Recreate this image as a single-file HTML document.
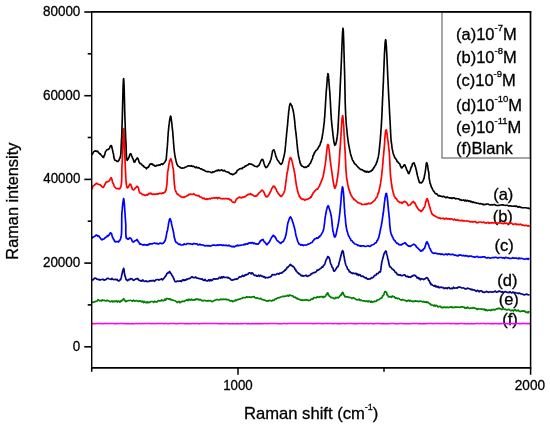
<!DOCTYPE html>
<html><head><meta charset="utf-8"><style>
html,body{margin:0;padding:0;background:#fff;}
body{width:550px;height:430px;overflow:hidden;}
svg{display:block;}
text{font-family:"Liberation Sans",Arial,sans-serif;fill:#000;stroke:#000;stroke-width:0.3px;}
.tk{font-size:14.2px;}
.ti{font-size:16.6px;}
.sup{font-size:9px;}
.lg{font-size:16.5px;}
.lsup{font-size:9.5px;}
</style></head><body>
<svg width="550" height="430" viewBox="0 0 550 430">
<rect width="550" height="430" fill="#fff"/>
<text x="493.2" y="199.6" class="lg">(a)</text>
<text x="492.7" y="222.0" class="lg">(b)</text>
<text x="494.5" y="251.0" class="lg">(c)</text>
<text x="497.3" y="285.8" class="lg">(d)</text>
<text x="498.7" y="305.3" class="lg">(e)</text>
<text x="502.2" y="324.8" class="lg">(f)</text>
<polyline points="91.6,323.6 91.6,323.7 91.6,323.7 91.7,323.6 91.7,323.5 91.8,323.5 91.8,323.6 91.9,323.6 92.0,323.7 92.1,323.6 92.3,323.7 92.4,323.5 92.6,323.7 92.7,323.7 92.9,323.6 93.1,323.6 93.3,323.7 93.5,323.5 93.8,323.6 94.0,323.7 94.3,323.5 94.5,323.7 94.8,323.7 95.1,323.7 95.4,323.6 95.7,323.5 96.0,323.7 96.4,323.7 96.7,323.6 97.1,323.5 97.5,323.5 97.9,323.6 98.3,323.5 98.7,323.7 99.1,323.6 99.5,323.5 100.0,323.6 100.4,323.6 100.9,323.7 101.4,323.7 101.9,323.6 102.4,323.6 102.9,323.7 103.4,323.7 104.0,323.7 104.5,323.5 105.1,323.6 105.6,323.6 106.2,323.5 106.8,323.6 107.4,323.5 108.0,323.7 108.7,323.6 109.3,323.5 109.9,323.6 110.6,323.5 111.2,323.5 111.9,323.6 112.6,323.5 113.3,323.5 114.0,323.7 114.7,323.7 115.4,323.5 116.2,323.7 116.9,323.5 117.7,323.5 118.4,323.7 119.2,323.6 120.0,323.5 120.8,323.6 121.6,323.6 122.4,323.5 123.2,323.7 124.0,323.5 124.9,323.6 125.7,323.7 126.6,323.6 127.4,323.7 128.3,323.5 129.2,323.7 130.1,323.7 131.0,323.7 131.9,323.7 132.8,323.6 133.7,323.7 134.7,323.7 135.6,323.6 136.6,323.6 137.5,323.7 138.5,323.6 139.5,323.5 140.5,323.7 141.4,323.5 142.4,323.6 143.5,323.7 144.5,323.5 145.5,323.5 146.5,323.5 147.6,323.6 148.6,323.6 149.7,323.5 150.7,323.6 151.8,323.7 152.9,323.5 153.9,323.6 155.0,323.7 156.1,323.6 157.2,323.5 158.3,323.6 159.5,323.6 160.6,323.5 161.7,323.6 162.9,323.5 164.0,323.7 165.2,323.5 166.3,323.6 167.5,323.7 168.6,323.7 169.8,323.6 171.0,323.6 172.2,323.5 173.4,323.6 174.6,323.6 175.8,323.7 177.0,323.7 178.2,323.5 179.5,323.5 180.7,323.6 181.9,323.5 183.2,323.5 184.4,323.7 185.7,323.5 186.9,323.7 188.2,323.6 189.5,323.7 190.8,323.7 192.0,323.5 193.3,323.5 194.6,323.7 195.9,323.6 197.2,323.6 198.5,323.7 199.8,323.7 201.2,323.6 202.5,323.6 203.8,323.5 205.1,323.6 206.5,323.5 207.8,323.6 209.2,323.6 210.5,323.5 211.9,323.6 213.2,323.5 214.6,323.5 215.9,323.6 217.3,323.6 218.7,323.7 220.1,323.6 221.4,323.7 222.8,323.5 224.2,323.7 225.6,323.5 227.0,323.6 228.4,323.7 229.8,323.7 231.2,323.7 232.6,323.6 234.0,323.7 235.5,323.7 236.9,323.5 238.3,323.7 239.7,323.7 241.1,323.6 242.6,323.7 244.0,323.6 245.5,323.5 246.9,323.7 248.3,323.5 249.8,323.7 251.2,323.7 252.7,323.5 254.1,323.7 255.6,323.5 257.0,323.7 258.5,323.5 260.0,323.7 261.4,323.6 262.9,323.7 264.4,323.5 265.8,323.5 267.3,323.7 268.8,323.6 270.3,323.6 271.7,323.5 273.2,323.5 274.7,323.6 276.2,323.5 277.7,323.7 279.2,323.7 280.6,323.7 282.1,323.7 283.6,323.6 285.1,323.5 286.6,323.7 288.1,323.5 289.6,323.6 291.1,323.6 292.6,323.6 294.1,323.5 295.6,323.5 297.1,323.6 298.6,323.5 300.1,323.6 301.6,323.5 303.1,323.5 304.6,323.5 306.1,323.6 307.6,323.6 309.1,323.5 310.6,323.5 312.0,323.6 313.5,323.7 315.0,323.6 316.5,323.5 318.0,323.5 319.5,323.5 321.0,323.6 322.5,323.7 324.0,323.6 325.5,323.5 327.0,323.5 328.5,323.6 330.0,323.6 331.5,323.6 333.0,323.7 334.5,323.6 336.0,323.6 337.5,323.7 339.0,323.6 340.5,323.7 341.9,323.6 343.4,323.6 344.9,323.7 346.4,323.5 347.9,323.6 349.4,323.6 350.8,323.5 352.3,323.5 353.8,323.7 355.3,323.5 356.7,323.7 358.2,323.5 359.7,323.6 361.1,323.5 362.6,323.6 364.1,323.7 365.5,323.5 367.0,323.6 368.4,323.7 369.9,323.5 371.3,323.6 372.8,323.7 374.2,323.7 375.6,323.5 377.1,323.6 378.5,323.5 380.0,323.5 381.4,323.7 382.8,323.5 384.2,323.7 385.6,323.7 387.1,323.7 388.5,323.7 389.9,323.6 391.3,323.5 392.7,323.6 394.1,323.5 395.5,323.7 396.9,323.7 398.3,323.7 399.7,323.5 401.0,323.6 402.4,323.5 403.8,323.7 405.2,323.7 406.5,323.7 407.9,323.7 409.2,323.7 410.6,323.7 411.9,323.5 413.3,323.6 414.6,323.5 416.0,323.6 417.3,323.5 418.6,323.7 419.9,323.5 421.3,323.7 422.6,323.7 423.9,323.6 425.2,323.7 426.5,323.5 427.8,323.5 429.1,323.5 430.3,323.5 431.6,323.5 432.9,323.7 434.2,323.5 435.4,323.6 436.7,323.5 437.9,323.5 439.2,323.6 440.4,323.5 441.6,323.7 442.9,323.6 444.1,323.6 445.3,323.6 446.5,323.6 447.7,323.6 448.9,323.5 450.1,323.5 451.3,323.7 452.5,323.5 453.6,323.6 454.8,323.7 455.9,323.6 457.1,323.7 458.2,323.7 459.4,323.6 460.5,323.5 461.6,323.6 462.8,323.6 463.9,323.7 465.0,323.6 466.1,323.7 467.2,323.7 468.2,323.6 469.3,323.7 470.4,323.7 471.4,323.5 472.5,323.7 473.5,323.7 474.6,323.7 475.6,323.6 476.6,323.5 477.6,323.5 478.7,323.6 479.7,323.7 480.6,323.6 481.6,323.5 482.6,323.5 483.6,323.5 484.5,323.6 485.5,323.7 486.4,323.7 487.4,323.5 488.3,323.6 489.2,323.5 490.1,323.7 491.0,323.7 491.9,323.6 492.8,323.7 493.7,323.6 494.5,323.7 495.4,323.6 496.2,323.6 497.1,323.7 497.9,323.7 498.7,323.6 499.5,323.7 500.3,323.6 501.1,323.7 501.9,323.5 502.7,323.5 503.4,323.5 504.2,323.6 504.9,323.7 505.7,323.5 506.4,323.6 507.1,323.5 507.8,323.7 508.5,323.7 509.2,323.5 509.9,323.7 510.5,323.6 511.2,323.5 511.8,323.6 512.4,323.5 513.1,323.7 513.7,323.7 514.3,323.5 514.9,323.5 515.5,323.6 516.0,323.7 516.6,323.7 517.1,323.6 517.7,323.5 518.2,323.6 518.7,323.6 519.2,323.7 519.7,323.6 520.2,323.7 520.7,323.7 521.1,323.6 521.6,323.7 522.0,323.5 522.4,323.5 522.8,323.7 523.2,323.5 523.6,323.7 524.0,323.6 524.4,323.5 524.7,323.5 525.1,323.7 525.4,323.6 525.7,323.6 526.0,323.5 526.3,323.7 526.6,323.6 526.8,323.7 527.1,323.5 527.3,323.7 527.6,323.6 527.8,323.6 528.0,323.5 528.2,323.6 528.4,323.7 528.5,323.5 528.7,323.6 528.8,323.5 529.0,323.7 529.1,323.7 529.2,323.7 529.3,323.6 529.3,323.5 529.4,323.5 529.4,323.7 529.5,323.7 529.5,323.7 529.5,323.6" fill="none" stroke="#ff00ff" stroke-width="1.5" stroke-linejoin="round"/>
<polyline points="91.6,302.4 91.8,302.5 92.4,302.4 93.4,302.1 94.5,301.9 95.7,301.3 96.9,301.2 98.0,299.7 98.8,300.3 99.7,300.9 100.6,300.5 101.5,300.9 102.4,299.9 103.3,300.5 104.3,300.3 105.2,300.8 106.1,300.9 107.1,300.3 108.0,300.6 108.9,300.8 109.9,301.7 110.9,301.6 111.9,300.8 112.9,301.8 113.9,301.0 114.8,301.7 115.7,301.1 116.5,300.9 117.3,302.1 118.0,301.2 118.9,301.1 119.6,302.1 120.3,301.8 121.0,300.7 121.7,301.1 122.3,299.9 123.0,299.5 123.6,298.6 124.2,299.9 124.8,300.2 125.4,301.2 126.0,301.6 126.9,300.8 128.0,300.8 128.7,300.5 129.5,300.5 130.4,300.3 131.5,300.7 132.5,301.1 133.6,300.2 134.8,301.1 135.9,300.7 137.0,300.7 138.0,301.4 138.9,301.1 139.8,300.9 140.7,301.3 141.6,301.8 142.5,301.1 143.5,302.5 144.4,301.4 145.3,302.5 146.2,302.8 147.1,301.7 148.0,302.8 148.9,302.2 149.9,302.4 150.8,301.5 151.7,301.5 152.7,301.5 153.6,302.4 154.6,301.2 155.5,301.8 156.3,301.9 157.2,301.8 158.0,300.8 158.9,300.7 159.8,300.8 160.7,301.0 161.6,299.9 162.4,300.7 163.2,300.6 164.0,300.5 164.9,299.1 165.7,300.1 166.5,298.5 167.4,298.6 168.2,298.8 169.0,299.2 169.8,298.6 170.7,299.8 171.5,299.7 172.3,299.9 173.1,300.4 174.0,300.5 174.8,300.7 175.6,301.0 176.5,301.9 177.3,302.5 178.2,301.5 179.1,301.4 180.0,302.7 180.8,302.0 181.7,301.6 182.5,301.2 183.4,301.4 184.3,301.4 185.2,300.6 186.1,300.3 187.1,299.6 188.0,300.6 188.9,299.2 189.7,299.8 190.6,300.2 191.5,299.1 192.4,299.9 193.3,300.1 194.2,299.7 195.2,299.9 196.1,298.9 197.1,299.4 198.0,299.0 198.9,300.0 199.8,299.4 200.7,299.7 201.6,300.6 202.5,300.6 203.4,300.9 204.3,300.3 205.3,300.5 206.2,301.0 207.1,300.8 208.1,300.6 209.0,300.8 210.0,300.5 210.9,300.8 211.8,301.6 212.8,301.4 213.7,300.8 214.7,300.4 215.7,300.0 216.6,299.5 217.6,299.5 218.5,300.0 219.5,300.0 220.4,299.1 221.4,299.6 222.3,299.4 223.1,299.3 224.0,299.2 225.0,299.5 226.1,299.1 227.0,299.8 228.0,299.5 229.0,300.1 229.9,300.8 230.8,300.9 231.8,300.6 232.7,301.6 233.6,301.2 234.6,301.0 235.5,299.9 236.4,300.4 237.4,299.6 238.3,299.7 239.2,299.0 240.1,299.1 241.1,298.5 242.0,298.4 242.9,297.5 243.9,297.7 244.8,297.6 245.7,297.6 246.7,296.7 247.6,297.3 248.6,297.2 249.5,296.9 250.4,297.3 251.4,297.3 252.3,296.8 253.2,296.9 254.1,296.6 255.0,297.8 256.0,298.1 257.0,297.7 258.0,298.3 258.8,298.5 259.7,298.8 260.6,298.3 261.6,299.4 262.5,299.5 263.5,299.9 264.5,299.9 265.4,300.4 266.4,300.9 267.3,300.9 268.3,301.2 269.2,300.3 270.0,300.5 271.0,300.8 271.9,300.9 272.7,300.1 273.6,300.4 274.4,300.0 275.3,298.8 276.1,299.0 277.0,298.3 278.0,297.8 278.9,297.6 279.8,297.6 280.7,297.1 281.7,296.8 282.7,296.3 283.7,296.6 284.7,296.2 285.7,296.2 286.7,296.0 287.7,295.3 288.6,296.2 289.5,294.9 290.4,295.5 291.3,295.5 292.2,295.9 293.0,295.9 293.8,297.4 294.6,297.2 295.4,297.2 296.3,298.5 297.1,298.1 298.0,299.1 298.8,299.0 299.7,299.5 300.6,300.2 301.5,300.2 302.4,299.8 303.4,300.4 304.3,300.2 305.2,299.9 306.2,299.6 307.1,300.2 308.0,300.1 308.9,300.5 309.9,300.3 310.8,299.5 311.8,298.9 312.7,299.3 313.7,297.7 314.6,297.5 315.5,297.8 316.4,297.6 317.2,296.7 318.0,297.2 318.9,297.4 319.8,296.7 320.7,296.8 321.5,296.5 322.3,296.6 323.0,297.5 323.8,296.4 324.5,296.9 325.2,296.5 325.8,295.6 326.3,294.5 326.8,294.7 327.2,293.3 327.6,292.9 328.0,293.0 328.3,294.7 328.7,294.9 329.1,295.5 329.6,296.5 330.3,296.5 331.2,297.6 332.1,297.7 333.1,297.8 334.0,298.6 334.8,298.7 335.7,297.4 336.6,297.9 337.5,297.3 338.3,297.9 339.0,297.4 339.8,296.1 340.4,295.4 341.0,294.5 341.5,294.9 341.9,293.1 342.3,292.8 342.7,292.4 343.1,292.9 343.4,293.7 343.8,294.9 344.2,295.0 344.8,296.7 345.5,296.4 346.2,297.0 347.1,296.8 348.0,296.9 349.0,297.4 350.0,297.5 350.8,297.5 351.6,298.3 352.5,298.3 353.4,297.7 354.4,298.3 355.3,298.8 356.3,299.7 357.3,299.9 358.2,299.7 359.1,299.1 360.0,300.4 360.9,300.1 361.9,300.5 362.8,300.8 363.7,300.9 364.6,300.8 365.5,301.5 366.4,300.9 367.2,301.0 368.0,301.8 368.9,301.0 369.8,301.3 370.6,302.2 371.4,301.2 372.2,302.3 373.0,302.1 373.9,301.5 374.7,301.1 375.6,301.5 376.4,301.3 377.2,299.9 378.0,300.0 378.8,299.7 379.5,299.3 380.2,298.7 380.9,298.0 381.5,298.1 382.0,297.8 382.5,296.1 382.9,295.6 383.3,295.7 383.7,294.9 384.2,293.7 384.7,291.6 385.1,291.7 385.6,291.7 386.0,292.0 386.3,292.5 386.7,292.7 387.0,294.8 387.5,294.8 388.1,296.0 388.7,297.0 389.3,297.0 390.0,296.5 390.7,296.7 391.5,297.3 392.3,296.0 393.0,296.7 393.8,296.7 394.5,296.9 395.2,298.1 396.0,297.8 396.7,298.1 397.5,298.7 398.3,298.4 399.1,298.5 400.0,299.4 400.8,299.8 401.6,300.2 402.5,299.4 403.4,300.0 404.2,300.0 405.1,300.6 406.0,300.6 406.8,301.3 407.7,300.6 408.5,300.2 409.4,301.1 410.2,300.4 411.1,301.1 412.0,301.0 412.8,301.6 413.7,301.2 414.6,301.3 415.5,300.9 416.4,301.3 417.3,301.0 418.2,301.7 419.1,301.4 420.0,301.0 420.9,301.2 421.8,301.5 422.7,302.0 423.6,301.3 424.5,302.2 425.4,302.2 426.2,301.6 427.0,302.6 427.9,302.2 428.7,302.7 429.5,303.8 430.3,303.8 431.1,305.1 432.0,305.0 432.8,305.0 433.6,305.9 434.5,305.1 435.3,306.2 436.2,305.4 437.1,305.7 438.0,307.0 438.8,306.8 439.7,306.3 440.5,306.3 441.4,307.7 442.3,307.4 443.2,307.7 444.1,306.9 445.1,307.6 446.0,307.3 446.9,307.1 447.8,307.3 448.7,307.6 449.6,307.2 450.5,307.2 451.5,306.7 452.4,307.6 453.3,307.3 454.2,307.5 455.1,306.9 456.0,307.5 456.9,307.0 457.8,307.2 458.7,307.2 459.6,307.5 460.5,307.1 461.4,306.8 462.2,306.8 463.1,307.1 464.0,307.0 464.9,308.2 465.8,307.7 466.7,308.1 467.6,307.1 468.4,307.9 469.3,308.5 470.2,308.2 471.1,308.0 472.0,308.2 472.9,307.7 473.8,307.9 474.6,308.1 475.5,308.5 476.4,308.7 477.3,309.5 478.2,308.6 479.1,308.9 480.0,309.0 480.9,308.9 481.7,309.2 482.6,309.2 483.6,309.6 484.5,309.1 485.4,310.4 486.3,309.7 487.2,310.6 488.2,310.2 489.1,310.2 490.0,310.0 490.9,310.6 491.8,309.4 492.7,310.0 493.6,309.4 494.5,309.8 495.5,309.7 496.4,308.8 497.3,308.8 498.2,308.4 499.1,308.6 500.0,308.4 500.9,308.9 501.8,309.7 502.7,308.9 503.6,309.0 504.5,309.3 505.5,309.1 506.4,309.9 507.3,310.0 508.2,309.3 509.1,309.5 510.0,310.2 510.9,310.7 511.8,310.4 512.7,310.2 513.6,311.0 514.6,309.7 515.5,309.9 516.4,311.0 517.3,310.6 518.2,310.2 519.1,311.0 520.0,311.7 521.0,311.2 522.2,311.1 523.5,310.9 524.7,311.1 526.0,312.4 527.1,312.0 528.1,312.8 528.8,311.7 529.3,312.0 529.5,312.4" fill="none" stroke="#008000" stroke-width="1.7" stroke-linejoin="round"/>
<polyline points="91.6,281.0 91.8,280.4 92.4,279.8 93.3,279.6 94.2,278.6 95.2,278.0 96.0,278.3 96.8,279.1 97.6,279.3 98.4,279.7 99.2,279.4 100.0,280.1 100.8,279.7 101.6,279.5 102.4,279.3 103.2,279.3 104.0,280.2 104.8,279.9 105.6,279.6 106.4,279.3 107.2,278.3 108.0,278.3 108.8,278.8 109.6,279.0 110.4,279.2 111.2,279.4 112.0,278.4 112.8,279.3 113.7,279.6 114.5,279.5 115.4,279.3 116.2,279.9 117.0,279.4 118.1,280.8 119.1,280.8 120.0,280.1 120.4,279.2 120.8,279.4 121.1,278.0 121.3,277.4 121.5,276.4 121.8,274.9 122.0,273.9 122.3,273.2 122.6,271.8 122.8,270.4 123.1,269.6 123.4,269.7 123.6,268.4 123.8,268.6 124.0,270.0 124.1,270.4 124.3,271.8 124.4,272.9 124.6,273.8 124.8,275.8 125.0,275.6 125.3,276.9 125.7,277.8 126.0,279.4 126.5,279.7 127.0,280.2 127.7,280.7 128.4,279.6 129.2,279.4 130.0,279.6 130.8,278.5 131.6,278.7 132.4,279.3 133.2,280.3 134.0,280.2 134.8,279.5 135.5,279.2 136.2,278.7 137.0,278.9 137.8,278.5 138.5,279.7 139.3,280.3 140.2,280.8 141.0,280.7 141.8,281.2 142.6,280.0 143.4,280.5 144.3,281.5 145.1,281.3 146.0,280.9 147.0,281.7 148.0,281.3 149.0,281.5 150.0,280.8 151.0,280.6 152.0,280.9 152.9,280.4 153.7,280.6 154.6,281.3 155.4,280.3 156.3,279.7 157.1,279.5 158.0,279.5 158.9,280.2 159.8,279.5 160.7,279.3 161.6,278.9 162.5,279.9 163.3,278.9 164.0,278.2 164.6,277.4 165.2,276.6 165.6,275.9 166.1,275.7 166.5,274.2 167.0,273.4 167.6,273.3 168.3,272.3 169.0,272.8 169.6,271.5 170.2,272.4 170.8,273.5 171.4,273.9 172.0,275.7 172.4,275.8 172.8,276.4 173.2,277.6 173.6,278.1 174.0,279.5 174.4,280.1 175.0,281.5 175.7,281.8 176.5,281.6 177.3,281.0 178.2,281.3 179.0,281.2 179.8,281.1 180.6,280.9 181.4,281.5 182.3,280.1 183.1,279.7 184.0,280.6 184.8,279.8 185.7,280.1 186.6,279.0 187.5,279.4 188.4,278.7 189.2,278.7 190.0,278.3 190.8,277.7 191.7,276.9 192.4,276.8 193.2,277.6 194.0,277.6 194.8,277.7 195.5,277.0 196.3,277.7 197.1,278.2 198.0,278.2 198.7,278.6 199.5,278.5 200.4,278.9 201.3,279.2 202.2,278.9 203.2,280.1 204.2,280.4 205.1,279.4 206.1,280.9 207.1,281.0 208.0,280.6 208.9,279.7 209.8,280.9 210.8,279.6 211.7,280.6 212.6,280.0 213.5,278.9 214.4,278.8 215.4,279.2 216.2,278.9 217.1,278.9 218.0,279.0 218.9,277.8 219.8,277.3 220.7,278.3 221.6,276.8 222.5,277.8 223.4,276.6 224.3,277.4 225.1,277.4 226.0,277.5 226.9,277.2 227.7,278.0 228.6,277.5 229.4,278.6 230.3,278.6 231.1,279.9 232.0,280.1 232.8,279.9 233.6,280.0 234.4,279.2 235.2,279.0 236.0,279.4 236.8,278.8 237.6,278.8 238.4,278.0 239.2,276.9 240.0,276.8 240.9,277.0 241.7,276.4 242.6,275.4 243.5,276.3 244.4,276.0 245.2,274.7 246.0,275.1 246.9,274.4 247.8,274.4 248.6,273.3 249.5,272.8 250.4,273.0 251.2,273.8 251.9,272.8 252.7,273.3 253.5,274.5 254.3,275.3 255.2,275.2 256.0,275.4 256.8,276.2 257.7,276.1 258.6,275.2 259.5,276.3 260.3,275.4 261.2,275.6 262.0,276.5 262.9,276.2 263.7,277.1 264.5,276.7 265.3,278.1 266.2,277.5 267.0,277.5 267.8,277.8 268.7,277.3 269.6,277.1 270.4,277.0 271.3,276.2 272.2,274.7 273.0,274.7 273.8,274.8 274.7,274.6 275.5,274.8 276.3,274.4 277.2,273.6 278.0,273.6 278.9,274.2 279.8,273.1 280.7,273.2 281.7,273.1 282.5,272.1 283.3,271.7 284.0,271.2 284.7,270.1 285.3,270.3 286.0,269.0 286.5,269.0 287.1,267.4 287.8,267.5 288.5,266.6 289.2,265.8 289.8,265.1 290.5,264.5 291.2,265.5 291.8,265.4 292.5,266.4 293.2,266.3 293.8,267.0 294.4,267.8 295.0,269.4 295.6,269.3 296.2,271.2 296.7,271.3 297.3,272.4 298.0,272.8 298.7,273.8 299.5,273.7 300.4,274.7 301.2,275.9 302.1,275.3 303.0,276.2 303.8,275.9 304.7,275.9 305.5,275.4 306.3,275.2 307.2,276.4 308.0,276.0 308.9,275.6 309.7,275.3 310.5,275.0 311.4,273.5 312.2,273.6 313.0,273.0 313.8,272.6 314.7,272.7 315.5,272.0 316.3,271.8 317.2,270.0 318.0,270.2 318.8,269.7 319.5,269.3 320.3,268.5 321.1,268.2 321.9,266.9 322.7,267.1 323.4,265.6 324.0,265.1 324.5,264.8 325.0,263.5 325.4,261.9 325.8,260.7 326.2,259.7 326.6,259.1 326.9,258.7 327.3,257.8 327.6,256.6 328.0,256.5 328.4,257.3 328.8,257.1 329.2,258.2 329.5,258.7 329.9,260.2 330.2,261.9 330.6,263.3 331.0,264.2 331.4,264.7 331.8,266.6 332.2,267.2 332.6,267.6 333.1,268.5 333.5,270.5 333.9,271.1 334.4,271.2 335.0,270.6 335.6,269.7 336.2,268.6 336.8,267.8 337.4,266.7 338.0,266.6 338.3,265.8 338.7,264.8 339.0,262.9 339.3,261.9 339.6,260.8 339.9,260.5 340.2,258.2 340.5,257.8 340.7,256.5 341.0,255.2 341.3,254.7 341.6,252.9 341.8,252.5 342.1,251.4 342.3,251.0 342.6,250.7 342.9,251.3 343.1,251.4 343.3,251.9 343.5,253.9 343.7,253.8 343.9,255.7 344.1,256.5 344.3,257.7 344.5,258.8 344.7,260.5 345.0,261.6 345.2,262.5 345.4,263.3 345.7,264.5 346.0,265.3 346.4,266.0 346.7,266.8 347.1,267.2 347.5,269.1 348.0,269.4 348.4,269.5 348.9,270.4 349.4,272.0 350.0,271.7 350.7,272.3 351.5,273.1 352.4,273.6 353.3,273.1 354.2,273.4 355.1,273.6 356.0,273.3 356.9,274.8 357.7,273.9 358.6,275.5 359.4,274.6 360.3,274.9 361.1,276.2 362.0,276.5 362.9,276.0 363.7,276.9 364.6,277.3 365.5,278.1 366.3,277.7 367.2,278.9 368.0,279.3 368.9,278.9 369.7,279.0 370.6,278.8 371.4,277.6 372.2,277.9 373.0,277.5 373.8,276.6 374.5,275.4 375.3,275.5 376.0,275.2 376.7,273.7 377.4,273.6 378.0,273.6 378.7,272.8 379.4,271.8 380.0,272.2 380.3,271.2 380.5,271.4 380.7,270.3 380.9,268.9 381.0,268.8 381.1,267.4 381.2,265.9 381.3,265.5 381.5,264.5 381.6,263.5 381.8,262.5 382.0,261.2 382.3,260.3 382.6,259.1 382.9,257.8 383.2,257.3 383.6,255.3 383.9,253.8 384.3,253.7 384.6,252.6 385.0,252.0 385.3,251.7 385.6,251.0 385.9,251.2 386.3,251.6 386.6,253.5 386.9,254.8 387.2,255.7 387.4,256.2 387.7,258.6 388.0,259.5 388.2,259.9 388.4,260.2 388.6,262.3 388.8,263.0 388.9,264.0 389.1,264.1 389.4,265.9 389.6,265.7 390.0,267.0 390.7,267.2 391.4,267.9 392.2,269.0 393.0,269.3 393.6,270.2 394.2,270.3 394.7,271.3 395.3,272.4 396.0,272.3 396.7,273.4 397.5,274.7 398.3,274.7 399.1,275.2 400.0,274.7 400.8,275.4 401.6,275.7 402.5,275.6 403.3,275.2 404.2,274.9 405.0,274.8 405.8,276.3 406.7,276.6 407.5,276.1 408.4,277.1 409.2,276.8 410.0,277.2 410.8,277.3 411.6,276.2 412.4,276.2 413.2,275.3 414.0,275.6 414.8,275.2 415.6,276.0 416.4,276.6 417.2,278.1 418.0,277.5 418.8,278.8 419.6,278.2 420.4,279.8 421.2,278.9 422.0,278.9 422.8,279.0 423.7,279.6 424.6,278.8 425.4,278.7 426.2,277.9 427.0,277.5 427.6,278.2 428.1,278.9 428.6,280.5 429.1,280.3 429.5,281.3 430.0,283.1 430.5,282.8 431.0,284.7 431.7,284.3 432.5,285.1 433.3,285.6 434.2,286.2 435.0,285.4 435.8,286.8 436.5,286.2 437.3,287.2 438.2,286.5 439.0,287.8 440.0,287.2 440.8,287.3 441.6,287.2 442.5,287.6 443.4,287.7 444.3,288.6 445.3,288.1 446.2,287.8 447.2,288.7 448.1,287.5 449.1,287.6 450.0,288.6 450.9,288.6 451.8,288.2 452.7,288.6 453.6,287.2 454.5,288.3 455.5,288.0 456.4,287.9 457.3,288.1 458.2,287.0 459.1,287.1 460.0,287.1 460.9,287.6 461.8,287.8 462.7,288.0 463.6,287.9 464.6,288.6 465.5,288.9 466.4,288.9 467.3,288.1 468.2,288.5 469.1,288.7 470.0,288.9 470.9,289.6 471.8,289.2 472.7,290.0 473.6,289.8 474.5,290.1 475.5,290.7 476.4,291.3 477.3,290.4 478.2,290.8 479.1,291.8 480.0,290.9 480.9,290.8 481.8,291.1 482.7,292.1 483.6,292.1 484.5,292.5 485.4,291.9 486.4,291.4 487.3,291.8 488.2,292.4 489.1,292.0 490.0,291.7 490.9,292.0 491.8,292.1 492.7,291.9 493.6,292.0 494.5,291.4 495.5,291.2 496.4,292.2 497.3,292.0 498.2,291.5 499.1,291.1 500.0,291.3 500.9,291.7 501.8,292.2 502.7,291.7 503.6,292.4 504.5,291.9 505.5,291.5 506.4,292.2 507.3,292.3 508.2,292.4 509.1,292.6 510.0,291.7 510.9,292.4 511.8,293.0 512.7,292.2 513.6,292.2 514.6,292.5 515.5,292.7 516.4,293.0 517.3,293.0 518.2,293.6 519.1,293.0 520.0,293.4 521.0,294.0 522.2,294.0 523.5,294.7 524.7,294.9 526.0,294.1 527.1,294.4 528.1,294.8 528.8,295.0 529.3,294.8 529.5,295.0" fill="none" stroke="#06068a" stroke-width="1.7" stroke-linejoin="round"/>
<polyline points="91.6,238.4 91.8,237.9 92.4,237.8 93.3,236.9 94.3,236.5 95.2,236.0 96.0,235.1 96.8,235.0 97.5,236.1 98.3,235.8 99.0,236.1 99.6,237.5 100.2,237.7 100.8,239.0 101.4,239.3 102.0,239.8 102.8,239.1 103.6,239.1 104.4,238.7 105.2,237.6 106.0,237.3 106.8,236.7 107.6,235.5 108.3,235.8 109.0,235.1 109.7,234.0 110.4,232.8 111.0,233.4 111.4,233.3 111.7,234.3 112.0,235.4 112.3,236.3 112.6,237.6 113.0,237.9 113.5,239.3 114.1,239.9 114.7,241.4 115.3,242.0 116.0,241.6 116.8,241.6 117.6,241.5 118.5,242.0 119.3,240.8 120.0,240.1 120.3,239.3 120.5,239.0 120.7,238.3 120.9,237.6 121.0,237.1 121.2,236.3 121.3,235.7 121.4,234.6 121.5,233.9 121.5,232.8 121.6,231.8 121.6,230.4 121.7,228.7 121.7,228.4 121.7,227.3 121.7,226.1 121.7,224.6 121.7,223.5 121.7,221.8 121.7,221.4 121.7,219.9 121.7,218.5 121.8,217.2 121.8,217.0 121.8,216.1 121.8,214.2 121.9,214.0 121.9,212.7 122.0,211.6 122.1,210.6 122.2,209.9 122.3,208.8 122.4,206.7 122.6,206.0 122.7,204.2 122.8,203.8 122.9,202.3 123.0,201.9 123.1,201.2 123.3,200.0 123.4,200.0 123.5,198.9 123.6,198.5 123.7,199.2 123.8,198.8 123.9,199.4 123.9,200.1 124.0,201.0 124.1,201.2 124.2,201.9 124.3,203.8 124.4,204.2 124.5,206.0 124.5,207.1 124.6,207.7 124.7,209.0 124.8,210.4 124.9,211.8 125.0,213.0 125.1,214.2 125.1,215.5 125.2,217.1 125.3,217.8 125.4,218.9 125.4,220.3 125.5,220.8 125.6,221.8 125.7,223.6 125.7,224.2 125.8,225.3 125.8,225.9 125.8,227.5 125.8,228.9 125.8,229.5 125.8,231.3 125.8,232.5 125.8,232.9 125.9,234.6 125.9,235.3 126.0,236.5 126.1,236.9 126.3,237.9 126.5,238.5 126.7,238.2 127.0,238.5 127.8,239.2 128.7,239.1 129.6,237.8 130.4,238.0 131.0,238.6 131.5,239.3 131.9,240.4 132.4,241.3 133.0,241.9 133.7,242.0 134.5,241.1 135.4,240.5 136.2,240.4 137.0,239.5 137.6,240.5 138.2,241.5 138.7,242.1 139.3,243.0 140.0,244.3 140.7,244.1 141.5,244.3 142.4,244.7 143.3,245.1 144.2,244.6 145.1,244.8 146.0,244.8 146.9,245.3 147.7,244.7 148.6,244.9 149.4,243.9 150.3,243.8 151.1,243.9 152.0,244.0 153.0,243.5 154.0,243.2 155.0,243.2 156.0,243.7 157.0,243.3 158.0,243.9 158.9,243.9 159.8,243.2 160.7,243.2 161.7,243.7 162.5,243.3 163.3,243.2 164.0,242.2 164.5,241.4 164.9,240.9 165.2,240.6 165.5,239.2 165.8,238.3 166.0,237.3 166.2,236.2 166.4,235.1 166.5,234.6 166.8,232.7 167.0,231.5 167.2,231.5 167.4,230.4 167.7,229.4 167.9,227.6 168.1,226.9 168.3,225.6 168.5,223.7 168.7,223.1 168.9,222.2 169.1,221.1 169.3,220.1 169.6,219.3 169.8,219.0 170.0,218.7 170.2,218.7 170.5,219.6 170.7,219.9 171.0,221.4 171.2,221.5 171.5,223.5 171.7,224.5 172.0,225.9 172.3,227.1 172.5,228.3 172.8,229.1 173.0,229.5 173.2,231.2 173.4,231.6 173.6,232.7 173.8,234.2 174.0,235.1 174.1,236.0 174.3,237.6 174.5,238.2 174.8,238.9 175.0,239.6 175.3,241.1 175.6,241.4 176.0,242.3 176.7,242.6 177.4,243.0 178.2,243.8 179.1,244.5 180.0,244.0 180.7,244.8 181.6,245.0 182.4,244.9 183.3,244.8 184.2,243.8 185.2,244.4 186.1,244.5 187.1,243.5 188.0,243.7 188.9,243.7 189.8,244.0 190.6,243.9 191.6,244.0 192.5,244.4 193.4,243.5 194.3,243.6 195.2,243.8 196.2,243.8 197.1,243.8 198.0,244.9 198.9,244.9 199.8,244.2 200.7,244.8 201.6,244.8 202.5,245.0 203.5,245.2 204.4,245.7 205.3,245.8 206.2,245.7 207.1,245.6 208.0,245.8 208.9,245.6 209.8,246.0 210.7,246.1 211.6,245.6 212.5,245.2 213.5,245.1 214.4,245.2 215.3,245.3 216.2,245.4 217.1,244.9 218.0,245.3 218.9,245.1 219.9,244.9 220.8,244.9 221.7,245.1 222.7,245.4 223.6,245.1 224.6,245.5 225.5,245.3 226.3,245.2 227.2,245.6 228.0,245.8 228.9,245.2 229.8,245.8 230.7,246.0 231.5,246.6 232.3,246.8 233.2,246.3 234.0,246.8 234.9,246.6 235.7,245.9 236.6,245.9 237.4,245.2 238.3,245.8 239.1,245.4 240.0,245.4 240.9,245.2 241.7,245.0 242.6,245.0 243.5,244.8 244.3,244.2 245.2,244.6 246.0,243.9 246.9,243.8 247.7,244.2 248.5,243.1 249.3,242.9 250.1,242.7 251.0,243.4 251.8,242.6 252.7,242.6 253.6,243.7 254.6,243.1 255.5,244.0 256.4,243.9 257.2,244.1 258.0,244.1 258.8,243.2 259.6,242.6 260.3,240.8 261.0,240.8 261.7,239.8 262.4,239.8 263.1,239.5 263.7,240.9 264.4,242.0 265.0,242.1 265.7,243.3 266.3,244.2 267.0,244.8 267.5,243.9 268.1,243.4 268.6,242.7 269.2,242.2 269.8,241.3 270.4,239.8 271.0,238.7 271.5,237.7 272.1,236.8 272.6,236.2 273.1,235.3 273.6,235.6 274.2,236.4 274.8,236.4 275.3,237.6 275.8,237.9 276.4,239.4 277.0,240.3 277.8,241.0 278.6,241.6 279.4,242.3 280.2,243.0 281.0,243.4 281.6,242.4 282.2,241.9 282.8,241.9 283.4,241.3 284.0,240.0 284.5,238.9 285.0,238.2 285.3,236.9 285.6,236.2 285.8,235.3 286.0,234.8 286.2,233.5 286.4,232.4 286.5,231.9 286.7,231.1 286.8,229.3 287.0,228.7 287.1,227.4 287.3,226.8 287.4,225.6 287.6,224.3 287.8,223.4 288.0,222.5 288.3,221.9 288.7,220.7 289.0,219.3 289.4,218.6 289.7,217.7 290.1,217.7 290.5,216.8 290.8,217.9 291.2,217.8 291.5,218.6 291.9,219.3 292.3,220.8 292.6,221.9 293.0,222.7 293.3,223.8 293.7,225.2 294.0,226.4 294.2,226.7 294.5,228.0 294.7,229.2 294.9,229.6 295.1,230.4 295.3,231.4 295.5,232.9 295.7,233.9 295.9,235.2 296.1,236.0 296.3,236.3 296.5,237.1 296.7,238.0 297.0,238.7 297.4,240.2 297.7,241.3 298.1,242.3 298.4,242.4 298.9,243.9 299.4,243.9 300.0,244.5 300.7,245.2 301.5,244.7 302.4,244.8 303.3,245.6 304.3,245.0 305.2,245.0 306.0,245.1 306.9,245.0 307.8,244.0 308.6,244.1 309.4,243.8 310.2,243.5 311.0,242.7 311.7,242.5 312.4,242.2 313.0,240.9 313.7,240.3 314.3,239.2 315.0,238.8 315.8,238.7 316.6,237.8 317.4,238.3 318.2,238.0 319.0,236.6 319.6,236.9 320.1,235.7 320.7,235.5 321.2,234.8 321.7,233.5 322.2,233.0 322.6,232.1 323.0,231.3 323.3,230.0 323.5,229.8 323.7,229.1 323.9,227.9 324.0,226.8 324.2,225.4 324.3,224.8 324.5,223.6 324.6,223.0 324.7,221.9 324.8,220.7 324.9,219.3 325.0,218.8 325.2,217.8 325.3,216.4 325.4,216.3 325.6,215.2 325.8,213.5 326.0,213.2 326.3,211.1 326.5,210.2 326.7,209.5 327.0,208.3 327.2,207.4 327.5,206.8 327.7,206.1 328.0,205.8 328.3,205.8 328.6,206.1 328.9,207.5 329.2,208.4 329.5,209.2 329.9,210.6 330.2,211.4 330.5,212.5 330.7,213.8 331.0,215.4 331.2,215.3 331.3,216.7 331.5,217.4 331.6,218.9 331.7,219.4 331.8,220.4 331.9,221.5 332.0,222.7 332.1,224.0 332.2,224.6 332.3,226.1 332.4,226.3 332.5,227.4 332.6,228.1 332.7,229.0 332.8,230.6 333.0,231.3 333.3,231.8 333.5,233.0 333.8,234.3 334.1,235.7 334.4,236.6 334.7,237.1 335.0,237.1 335.2,236.5 335.5,236.3 335.7,235.4 336.0,234.9 336.2,233.9 336.5,232.4 336.7,231.3 336.9,230.6 337.2,228.6 337.4,228.4 337.6,227.4 337.8,226.6 338.0,225.1 338.1,224.5 338.3,223.7 338.4,222.8 338.6,222.4 338.7,221.2 338.9,219.8 339.0,219.5 339.2,218.1 339.3,217.2 339.4,216.3 339.6,214.5 339.7,214.5 339.8,213.5 339.9,212.3 340.0,211.3 340.1,210.1 340.2,208.7 340.3,207.9 340.4,206.1 340.6,205.3 340.7,204.2 340.8,202.7 340.9,201.5 341.0,200.6 341.1,199.3 341.2,197.2 341.3,196.7 341.4,195.3 341.5,193.6 341.6,192.8 341.7,191.6 341.8,190.5 341.9,190.2 342.0,189.8 342.1,188.5 342.2,188.5 342.3,187.8 342.4,186.9 342.5,187.5 342.6,187.1 342.7,187.5 342.8,187.5 342.9,187.9 343.0,187.9 343.0,189.0 343.1,189.8 343.2,190.4 343.3,190.8 343.4,192.1 343.5,192.8 343.5,193.5 343.6,194.5 343.7,195.7 343.8,197.0 343.9,198.2 343.9,199.9 344.0,201.4 344.1,202.5 344.2,203.7 344.3,205.2 344.3,206.1 344.4,207.5 344.5,209.0 344.6,209.8 344.7,210.7 344.7,212.6 344.8,213.4 344.9,214.0 345.0,214.9 345.1,216.1 345.2,217.2 345.3,217.9 345.4,218.6 345.5,219.9 345.6,221.5 345.6,221.8 345.7,223.1 345.8,223.7 345.9,224.7 346.0,225.5 346.2,226.7 346.3,227.3 346.4,228.0 346.6,228.9 346.8,229.8 347.0,231.0 347.3,231.6 347.6,232.5 348.0,234.0 348.3,234.9 348.7,236.2 349.1,236.3 349.6,237.6 350.0,238.4 350.5,238.7 351.0,240.5 351.6,240.5 352.3,241.2 353.0,242.3 353.7,242.6 354.4,243.7 355.2,244.0 356.0,244.2 356.8,244.5 357.6,245.5 358.5,245.2 359.3,246.0 360.2,245.7 361.1,246.4 362.0,245.8 363.0,245.8 364.0,245.9 365.0,246.5 366.1,246.3 367.1,246.0 368.1,245.7 369.0,246.2 369.9,246.4 370.8,245.9 371.6,245.0 372.5,244.8 373.3,244.6 374.0,244.2 374.7,243.5 375.3,242.9 375.9,242.8 376.5,242.3 377.0,240.6 377.5,240.5 378.0,239.0 378.3,238.6 378.6,237.9 378.9,237.1 379.2,235.2 379.4,234.5 379.6,233.9 379.8,233.3 380.0,231.4 380.2,230.6 380.4,230.3 380.6,228.5 380.8,227.8 381.0,226.8 381.2,226.3 381.4,225.7 381.5,224.0 381.7,223.7 381.8,222.8 382.0,222.0 382.1,220.8 382.3,220.3 382.4,218.8 382.5,217.9 382.7,216.7 382.8,216.3 383.0,215.0 383.1,213.9 383.3,212.7 383.4,212.3 383.6,211.0 383.7,209.9 383.8,208.3 384.0,207.1 384.1,205.4 384.3,204.7 384.4,202.6 384.6,201.9 384.7,200.9 384.9,199.7 385.0,197.9 385.2,197.0 385.3,196.7 385.5,195.7 385.6,195.2 385.8,194.6 385.9,193.7 386.1,193.9 386.2,193.7 386.3,193.3 386.5,193.6 386.6,193.7 386.7,194.6 386.9,195.9 387.0,195.8 387.1,197.2 387.3,197.7 387.4,198.8 387.5,200.6 387.7,201.3 387.8,202.4 387.9,203.8 388.0,205.6 388.2,206.9 388.3,207.5 388.4,209.1 388.5,211.1 388.7,211.5 388.8,213.0 388.9,213.9 389.0,215.3 389.1,216.1 389.2,217.3 389.3,218.1 389.4,218.7 389.5,219.7 389.5,220.6 389.6,222.4 389.7,222.7 389.7,223.6 389.8,225.6 389.9,225.7 390.0,227.4 390.1,227.5 390.2,228.8 390.3,229.4 390.4,231.0 390.6,231.6 390.8,232.4 391.0,233.3 391.3,234.5 391.7,234.9 392.1,236.2 392.5,237.0 393.0,237.5 393.4,239.1 393.9,239.6 394.5,240.6 395.0,240.7 395.6,241.8 396.3,242.5 397.0,243.5 397.7,243.4 398.5,244.2 399.2,244.8 400.0,244.5 400.8,245.0 401.7,244.8 402.5,243.9 403.4,243.6 404.2,243.2 405.0,242.7 405.7,243.2 406.4,244.6 407.0,244.7 407.7,245.6 408.3,245.8 409.0,246.3 409.7,246.1 410.5,246.4 411.3,245.6 412.1,245.1 412.9,244.7 413.6,244.1 414.3,244.7 415.0,244.9 415.7,245.4 416.3,246.8 417.0,247.4 417.7,248.1 418.3,248.4 419.0,249.5 419.7,249.7 420.3,250.9 421.0,251.1 421.8,250.3 422.6,250.7 423.3,249.3 424.0,248.6 424.5,248.5 424.9,247.1 425.3,246.2 425.6,245.1 426.0,243.3 426.3,243.2 426.6,242.0 427.0,241.9 427.4,242.1 427.7,243.1 428.1,244.0 428.4,244.6 428.8,245.5 429.2,246.9 429.6,248.1 430.0,248.5 430.5,249.5 431.0,251.0 431.6,251.6 432.2,252.6 433.0,253.1 433.7,253.4 434.5,253.1 435.3,253.0 436.2,253.4 437.1,253.6 438.1,253.8 439.0,253.9 440.0,253.8 440.8,254.5 441.7,253.9 442.6,254.2 443.5,254.7 444.4,254.7 445.4,254.1 446.3,254.1 447.2,254.8 448.2,253.9 449.1,254.1 450.0,254.6 450.9,254.7 451.8,254.4 452.7,254.3 453.6,254.6 454.5,255.3 455.5,255.0 456.4,255.7 457.3,255.6 458.2,255.9 459.1,254.9 460.0,255.2 460.9,255.0 461.8,255.6 462.7,255.6 463.6,255.3 464.5,256.0 465.5,255.6 466.4,255.9 467.3,255.9 468.2,256.6 469.1,256.2 470.0,256.1 470.9,256.0 471.8,256.4 472.7,256.7 473.6,256.8 474.5,257.1 475.5,257.1 476.4,256.5 477.3,256.4 478.2,257.2 479.1,257.3 480.0,257.0 480.9,257.4 481.8,257.2 482.7,256.9 483.6,256.9 484.5,256.8 485.5,257.5 486.4,257.9 487.3,257.9 488.2,257.5 489.1,257.8 490.0,258.1 491.0,258.0 492.0,257.7 493.0,257.5 494.0,257.6 495.0,257.3 496.0,257.3 497.0,257.8 498.0,258.1 499.0,257.6 500.0,257.5 500.9,257.5 501.8,257.6 502.7,258.0 503.6,257.7 504.5,258.3 505.5,257.4 506.4,257.6 507.3,257.9 508.2,257.8 509.1,258.3 510.0,258.4 510.9,258.5 511.8,258.2 512.7,257.6 513.6,258.2 514.6,258.2 515.5,258.2 516.4,258.0 517.3,258.5 518.2,258.8 519.1,257.9 520.0,258.6 521.0,258.3 522.2,258.5 523.5,259.0 524.7,259.2 526.0,258.9 527.1,258.5 528.1,259.4 528.8,258.6 529.3,258.9 529.5,259.0" fill="none" stroke="#0000ff" stroke-width="1.7" stroke-linejoin="round"/>
<polyline points="91.6,189.0 91.8,189.2 92.2,188.5 92.8,186.5 93.6,185.5 94.4,185.2 95.3,184.3 96.0,183.8 96.8,183.3 97.6,183.9 98.4,184.3 99.2,184.7 100.0,184.6 100.8,185.5 101.6,186.2 102.3,187.1 103.0,187.5 103.6,187.1 104.2,185.9 104.8,184.7 105.4,183.5 106.0,182.5 106.7,181.9 107.5,181.9 108.3,181.3 109.0,180.9 109.6,180.6 110.1,179.2 110.5,178.4 111.0,177.7 111.4,177.8 111.7,178.8 112.0,179.5 112.3,181.0 112.6,182.6 113.0,183.2 113.4,183.6 113.9,185.3 114.3,186.2 114.8,187.0 115.4,187.9 116.0,188.3 116.9,188.7 118.0,188.4 119.1,189.0 120.0,188.5 120.3,187.3 120.5,187.5 120.8,187.0 121.0,186.1 121.1,185.5 121.3,184.6 121.4,184.3 121.5,182.9 121.6,182.3 121.6,180.8 121.7,180.4 121.7,179.3 121.7,177.7 121.8,176.7 121.8,175.9 121.8,174.5 121.8,173.1 121.8,171.6 121.8,170.5 121.8,169.7 121.9,168.0 121.9,167.6 121.9,165.8 122.0,165.5 122.1,163.9 122.1,163.7 122.2,162.4 122.2,161.1 122.3,160.0 122.3,159.0 122.4,157.7 122.4,156.2 122.5,154.9 122.5,153.9 122.6,153.1 122.6,151.5 122.6,149.6 122.7,149.1 122.7,147.7 122.8,146.6 122.8,144.6 122.8,143.9 122.9,141.9 122.9,141.3 123.0,139.7 123.0,138.5 123.0,138.1 123.1,136.2 123.1,135.7 123.2,135.1 123.2,133.5 123.2,132.6 123.3,132.6 123.3,131.4 123.4,131.1 123.4,129.8 123.4,129.7 123.5,129.1 123.5,129.4 123.6,128.6 123.6,129.5 123.6,128.5 123.7,129.5 123.7,129.0 123.8,129.7 123.8,130.8 123.9,130.6 123.9,131.4 123.9,132.7 124.0,133.2 124.0,133.7 124.1,135.7 124.1,135.8 124.2,136.8 124.2,138.3 124.2,139.8 124.3,141.1 124.3,141.6 124.4,143.2 124.4,144.1 124.5,145.8 124.5,147.5 124.5,148.7 124.6,150.2 124.6,151.3 124.7,152.7 124.7,153.7 124.8,154.7 124.8,155.6 124.9,157.2 124.9,157.8 125.0,158.6 125.0,159.9 125.1,161.4 125.1,161.7 125.2,163.2 125.2,164.1 125.2,165.4 125.3,166.1 125.3,168.1 125.4,168.4 125.4,169.9 125.5,170.8 125.5,171.5 125.6,173.2 125.6,173.8 125.7,174.8 125.7,175.8 125.8,176.9 125.8,177.8 125.9,179.3 126.0,180.1 126.0,181.5 126.1,182.2 126.2,183.1 126.2,182.9 126.3,183.8 126.4,184.2 126.5,185.1 126.7,186.2 126.9,187.4 127.2,187.9 127.5,187.7 128.0,187.6 128.6,186.8 129.2,185.1 129.8,184.2 130.4,184.3 130.8,184.3 131.1,185.8 131.5,186.3 131.8,187.3 132.1,188.4 132.5,189.3 133.0,189.7 133.7,189.8 134.5,189.1 135.3,188.0 136.2,187.4 136.9,186.3 137.6,186.8 138.0,187.2 138.3,187.6 138.5,188.2 138.7,189.3 138.9,190.5 139.2,190.9 139.5,192.2 140.0,193.0 140.7,193.2 141.5,193.5 142.4,194.7 143.3,194.5 144.3,194.9 145.2,195.4 146.0,195.1 146.9,194.6 147.7,195.1 148.4,194.0 149.2,193.3 150.0,193.8 150.8,193.2 151.6,193.6 152.3,194.4 153.1,194.5 154.0,193.9 154.8,194.3 155.6,194.2 156.5,194.2 157.4,193.8 158.3,194.1 159.2,193.3 160.0,193.4 160.9,193.3 161.8,193.8 162.7,192.8 163.5,193.3 164.3,192.3 165.0,192.1 165.3,191.4 165.6,190.9 165.9,190.6 166.1,189.5 166.3,188.3 166.5,187.4 166.6,186.4 166.7,186.3 166.8,185.0 166.9,184.3 167.0,182.9 167.1,181.0 167.2,180.6 167.2,179.5 167.3,178.3 167.3,176.9 167.4,175.7 167.5,174.7 167.6,174.0 167.6,172.4 167.7,171.8 167.9,170.8 168.0,170.5 168.2,169.2 168.4,168.2 168.6,166.8 168.8,165.0 169.1,163.7 169.3,162.9 169.5,161.6 169.7,160.8 169.9,160.3 170.2,160.0 170.4,159.2 170.6,159.3 170.8,158.7 171.1,159.4 171.3,160.8 171.6,160.7 171.8,162.0 172.1,162.7 172.3,163.9 172.5,166.1 172.8,167.4 173.0,168.2 173.1,168.4 173.3,169.4 173.4,170.2 173.5,171.6 173.6,172.6 173.6,173.3 173.7,174.5 173.8,175.1 173.9,176.7 173.9,178.3 174.0,179.2 174.1,179.6 174.2,181.2 174.2,182.5 174.3,183.1 174.4,184.9 174.6,185.4 174.7,186.7 174.8,187.3 175.0,188.9 175.1,189.5 175.3,190.1 175.5,190.4 175.7,191.4 176.0,191.5 176.6,193.1 177.2,194.2 177.8,194.1 178.6,195.1 179.3,195.5 180.0,195.9 180.8,196.6 181.6,197.2 182.4,197.1 183.2,197.0 184.0,197.5 184.8,196.6 185.6,196.6 186.4,196.1 187.2,195.7 188.0,195.4 188.8,194.4 189.6,194.6 190.3,194.1 191.1,194.2 192.0,194.5 192.8,194.2 193.6,193.7 194.5,194.4 195.3,194.9 196.2,195.4 197.1,195.4 198.0,195.9 198.8,195.4 199.7,196.8 200.6,197.0 201.5,197.4 202.4,198.2 203.3,198.6 204.2,198.1 205.1,199.2 206.0,199.3 206.9,198.7 207.8,199.3 208.6,199.0 209.5,198.4 210.4,198.9 211.3,198.0 212.2,198.3 213.1,198.0 214.0,197.7 214.9,198.1 215.8,197.9 216.7,197.7 217.6,198.6 218.4,197.6 219.3,197.6 220.2,198.2 221.1,198.7 222.0,198.6 222.9,198.8 223.8,198.5 224.8,198.8 225.7,198.5 226.7,198.6 227.6,199.0 228.4,198.6 229.3,198.9 230.0,199.9 230.9,199.8 231.8,201.2 232.5,202.0 233.3,202.1 234.0,202.6 234.7,202.4 235.3,201.8 235.9,200.1 236.5,199.1 237.2,198.5 238.0,198.0 238.8,197.5 239.6,197.0 240.5,197.5 241.4,197.9 242.3,197.2 243.2,197.3 244.0,196.9 244.8,196.6 245.6,196.6 246.4,195.4 247.2,195.2 248.0,194.5 248.8,194.2 249.6,194.5 250.5,193.6 251.4,194.7 252.3,194.6 253.3,195.5 254.2,196.1 255.1,196.2 256.0,195.9 256.7,196.0 257.4,194.6 258.1,194.4 258.8,193.3 259.5,192.5 260.1,192.1 260.8,191.3 261.4,190.7 262.0,190.2 262.6,190.4 263.2,191.3 263.7,191.9 264.3,193.0 264.8,194.8 265.3,194.9 265.9,196.6 266.4,196.7 267.0,196.9 267.5,196.6 268.0,195.8 268.5,195.5 269.0,194.2 269.6,193.4 270.1,192.1 270.6,191.5 271.1,190.3 271.6,188.7 272.1,188.0 272.6,187.6 273.1,186.4 273.6,186.0 274.2,186.3 274.8,186.8 275.3,188.2 275.9,188.9 276.4,190.0 276.9,191.6 277.5,191.9 278.0,193.3 278.6,193.9 279.2,194.5 279.8,195.7 280.4,195.7 281.0,196.4 281.6,196.2 282.3,195.1 282.9,194.4 283.5,193.7 284.0,192.3 284.2,191.6 284.5,191.1 284.7,190.4 284.9,189.4 285.0,188.7 285.2,187.1 285.3,186.5 285.5,185.5 285.6,184.2 285.7,183.1 285.9,181.8 286.0,181.6 286.1,179.9 286.3,179.0 286.4,178.4 286.5,176.6 286.7,176.4 286.8,174.5 287.0,173.5 287.2,172.8 287.4,171.7 287.6,171.2 287.8,169.9 288.0,168.5 288.2,166.9 288.4,165.8 288.6,164.3 288.8,163.7 289.0,162.2 289.2,161.0 289.4,160.5 289.6,159.2 289.8,158.7 290.1,158.9 290.3,157.7 290.5,157.6 290.8,157.8 291.0,158.2 291.3,159.0 291.6,159.5 291.9,160.6 292.1,161.5 292.4,162.6 292.7,164.2 293.0,165.1 293.2,166.4 293.5,168.1 293.8,168.4 294.0,169.6 294.2,171.3 294.4,171.7 294.5,173.0 294.7,173.2 294.9,174.7 295.0,176.0 295.1,176.4 295.3,177.9 295.4,178.8 295.6,179.6 295.7,181.2 295.9,181.6 296.0,182.6 296.1,183.8 296.3,184.4 296.5,185.8 296.6,186.5 296.8,187.3 297.0,188.0 297.3,189.6 297.5,190.6 297.7,191.5 298.0,192.1 298.2,193.0 298.5,194.0 298.8,194.3 299.1,195.2 299.5,196.9 300.0,196.6 300.7,198.2 301.5,198.7 302.3,199.5 303.2,199.1 304.1,199.6 305.0,200.3 305.8,199.4 306.7,199.4 307.6,199.3 308.4,198.7 309.2,198.2 310.0,198.2 310.6,197.0 311.1,197.3 311.6,196.1 312.1,194.7 312.5,194.7 313.0,193.2 313.5,192.7 314.0,192.1 314.7,190.9 315.3,190.7 316.0,189.6 316.7,189.1 317.4,189.2 318.0,188.4 318.5,187.3 319.0,186.7 319.5,186.1 319.9,184.4 320.4,183.9 320.8,182.6 321.2,181.6 321.6,180.6 322.0,179.7 322.3,178.7 322.5,178.1 322.8,177.4 323.0,176.8 323.2,176.2 323.4,175.3 323.6,174.2 323.8,173.0 323.9,172.5 324.1,170.7 324.3,169.6 324.5,169.4 324.6,168.2 324.8,166.7 325.0,165.9 325.2,164.9 325.3,164.0 325.4,162.9 325.6,161.7 325.7,160.9 325.9,159.6 326.0,158.1 326.1,156.6 326.3,155.1 326.4,154.4 326.5,153.3 326.7,151.3 326.8,150.6 326.9,149.5 327.1,148.4 327.2,146.8 327.3,146.5 327.5,145.4 327.6,144.9 327.7,144.8 327.9,144.7 328.0,144.5 328.1,144.8 328.3,145.0 328.4,145.1 328.5,145.2 328.7,146.7 328.8,147.5 328.9,148.4 329.1,149.2 329.2,149.6 329.3,151.0 329.4,152.1 329.6,153.9 329.7,155.1 329.8,156.0 330.0,158.1 330.1,159.5 330.3,160.7 330.4,161.4 330.5,162.5 330.7,163.5 330.8,165.3 331.0,166.2 331.2,166.7 331.3,168.5 331.5,169.3 331.6,170.3 331.8,171.5 332.0,173.1 332.2,174.1 332.3,175.5 332.5,176.2 332.7,178.1 332.9,178.9 333.0,180.8 333.2,181.2 333.4,182.4 333.6,183.6 333.8,184.4 334.0,185.4 334.1,186.6 334.3,186.4 334.5,187.6 334.7,187.9 334.8,188.2 335.0,187.9 335.2,187.8 335.4,187.4 335.6,187.0 335.8,186.1 336.1,185.2 336.3,184.6 336.5,183.2 336.7,182.4 336.9,181.3 337.1,179.8 337.3,178.4 337.5,177.6 337.7,176.7 337.8,174.8 338.0,174.1 338.1,173.3 338.2,172.7 338.3,171.7 338.4,170.4 338.5,169.4 338.6,169.2 338.7,167.7 338.8,166.4 338.9,166.4 338.9,164.7 339.0,163.9 339.1,163.0 339.2,161.9 339.2,161.5 339.3,160.0 339.4,159.2 339.4,158.1 339.5,157.6 339.6,155.7 339.6,155.3 339.7,153.7 339.8,152.7 339.8,152.2 339.9,150.9 340.0,149.5 340.1,149.2 340.1,148.6 340.2,147.2 340.3,146.0 340.4,145.2 340.4,144.1 340.5,142.1 340.6,141.0 340.7,140.5 340.7,139.2 340.8,137.1 340.9,136.4 341.0,135.3 341.0,133.7 341.1,132.5 341.2,131.0 341.3,129.4 341.3,128.2 341.4,126.8 341.5,126.3 341.6,124.6 341.6,124.0 341.7,122.7 341.8,121.8 341.9,121.4 341.9,119.9 342.0,119.2 342.1,118.4 342.2,117.6 342.2,117.0 342.3,116.9 342.4,116.8 342.5,115.8 342.5,116.5 342.6,116.2 342.7,115.6 342.7,116.4 342.8,116.4 342.9,116.9 343.0,116.9 343.0,117.9 343.1,118.5 343.2,119.5 343.2,120.1 343.3,121.0 343.4,122.0 343.4,122.4 343.5,123.2 343.6,124.8 343.7,125.5 343.7,126.7 343.8,128.1 343.9,129.5 343.9,130.9 344.0,132.2 344.1,133.8 344.1,134.1 344.2,135.9 344.3,136.7 344.3,138.6 344.4,139.7 344.5,140.6 344.5,142.0 344.6,143.6 344.7,144.6 344.7,146.3 344.8,146.8 344.9,147.8 344.9,149.5 345.0,150.1 345.1,150.6 345.1,152.3 345.2,152.9 345.2,154.5 345.3,155.2 345.3,156.4 345.4,157.5 345.4,158.1 345.5,159.7 345.5,159.7 345.6,161.0 345.6,162.6 345.6,162.7 345.7,164.5 345.7,165.8 345.8,166.5 345.8,167.7 345.9,167.8 345.9,169.3 346.0,170.3 346.1,171.1 346.1,172.0 346.2,173.4 346.3,173.6 346.4,174.4 346.4,175.9 346.5,177.2 346.6,177.9 346.8,178.6 346.9,179.0 347.0,180.4 347.2,180.6 347.4,181.9 347.6,183.6 347.8,184.7 348.0,185.2 348.2,186.8 348.4,186.9 348.6,188.4 348.9,188.8 349.1,189.9 349.4,190.7 349.7,191.4 350.0,192.6 350.3,193.5 350.6,194.0 351.0,195.2 351.5,195.5 352.1,196.9 352.7,197.7 353.3,198.3 353.9,199.6 354.6,199.4 355.3,200.3 356.0,201.0 356.8,201.4 357.6,202.6 358.5,202.7 359.3,203.1 360.2,203.4 361.1,203.7 362.0,204.5 363.0,204.5 364.0,204.5 365.0,204.0 366.0,204.4 367.0,203.8 368.0,203.8 368.9,203.2 369.8,203.7 370.7,203.6 371.6,202.8 372.5,202.3 373.3,201.4 374.0,200.9 374.6,200.4 375.1,199.7 375.6,198.8 376.0,198.0 376.5,197.8 376.9,197.2 377.3,196.2 377.6,195.1 378.0,193.5 378.3,193.0 378.5,192.8 378.8,192.1 379.0,190.8 379.2,190.0 379.4,189.3 379.6,187.9 379.8,187.4 380.0,186.1 380.2,185.6 380.3,184.2 380.5,183.4 380.7,182.2 380.8,181.1 381.0,180.0 381.1,179.7 381.2,178.7 381.4,177.4 381.5,176.7 381.6,176.2 381.7,175.1 381.8,174.1 381.9,173.4 382.0,171.5 382.1,171.1 382.2,170.1 382.3,168.9 382.4,168.4 382.5,167.4 382.6,165.7 382.7,164.9 382.8,164.1 382.9,163.0 383.0,161.5 383.0,161.0 383.1,159.5 383.2,158.2 383.3,157.8 383.4,156.8 383.5,155.5 383.6,154.6 383.7,154.2 383.7,153.1 383.8,151.7 383.9,151.3 384.0,150.1 384.1,148.8 384.2,147.9 384.3,146.9 384.4,145.8 384.5,144.3 384.6,143.0 384.7,141.4 384.7,139.8 384.8,139.0 384.9,137.4 385.0,137.2 385.1,135.4 385.2,134.6 385.3,133.8 385.4,132.3 385.5,132.3 385.6,131.1 385.7,130.3 385.8,130.4 385.9,130.0 386.0,130.5 386.1,130.0 386.3,129.9 386.4,130.2 386.5,130.7 386.7,131.9 386.8,132.9 387.0,133.0 387.1,134.3 387.3,135.5 387.4,137.1 387.6,138.3 387.7,139.4 387.9,140.4 388.1,141.6 388.2,142.5 388.3,144.2 388.5,145.0 388.6,146.4 388.8,148.1 388.9,149.0 389.0,150.2 389.1,150.8 389.2,151.5 389.3,152.7 389.3,153.7 389.4,154.3 389.5,156.0 389.5,157.1 389.6,157.2 389.6,158.3 389.7,159.9 389.7,160.9 389.8,161.3 389.8,162.8 389.9,163.4 389.9,165.2 390.0,165.9 390.0,166.8 390.1,167.5 390.1,168.8 390.2,169.8 390.2,170.7 390.3,171.5 390.3,172.5 390.4,174.0 390.5,175.2 390.6,176.1 390.6,176.7 390.7,177.8 390.8,177.9 390.9,178.9 391.0,180.2 391.1,180.5 391.3,181.7 391.4,183.6 391.6,184.0 391.7,185.0 391.9,186.2 392.0,187.7 392.2,187.8 392.4,189.7 392.6,189.9 392.8,191.1 393.0,191.9 393.2,192.3 393.5,194.0 393.7,193.9 394.0,195.3 394.4,196.4 394.9,196.8 395.3,198.2 395.8,198.0 396.3,198.8 396.9,199.8 397.4,200.0 398.0,201.3 398.8,201.6 399.6,202.5 400.4,202.4 401.2,202.4 402.0,203.4 402.8,202.4 403.5,202.1 404.3,201.3 405.0,201.7 405.7,201.9 406.3,202.4 407.0,203.2 407.7,204.4 408.3,205.6 409.0,205.2 409.7,205.0 410.3,204.7 411.0,203.7 411.7,202.9 412.4,202.0 413.0,202.0 413.6,201.5 414.2,202.9 414.7,202.7 415.3,203.8 415.8,204.8 416.4,206.5 417.0,207.0 417.7,208.3 418.3,209.2 419.0,210.1 419.7,210.4 420.4,210.6 421.0,211.5 421.6,211.1 422.3,210.0 422.9,209.7 423.5,208.3 424.0,207.5 424.4,207.4 424.7,206.5 425.0,205.5 425.3,204.2 425.6,202.3 425.9,201.8 426.2,201.1 426.4,199.9 426.7,199.2 427.0,198.8 427.3,198.7 427.6,199.8 427.9,200.9 428.2,200.9 428.5,202.8 428.8,204.1 429.1,204.7 429.4,206.4 429.7,206.7 430.0,207.8 430.3,209.0 430.6,210.3 430.9,210.9 431.2,211.4 431.6,213.2 432.0,213.6 432.4,214.6 433.0,214.7 433.7,215.4 434.4,215.6 435.3,216.2 436.2,216.8 437.1,217.1 438.0,217.7 439.0,218.1 440.0,217.8 440.8,218.7 441.7,218.5 442.6,218.3 443.5,218.2 444.4,219.1 445.3,218.8 446.3,218.2 447.2,219.0 448.2,218.7 449.1,218.8 450.0,219.3 450.9,218.8 451.8,219.0 452.7,219.4 453.6,219.9 454.5,219.2 455.5,220.1 456.4,220.1 457.3,219.7 458.2,220.3 459.1,220.4 460.0,220.6 460.9,220.6 461.8,220.4 462.7,220.8 463.6,220.6 464.5,220.9 465.5,221.0 466.4,220.8 467.3,221.0 468.2,221.2 469.1,221.4 470.0,221.7 470.9,222.0 471.8,221.5 472.7,221.9 473.6,221.8 474.5,221.7 475.5,221.7 476.4,222.6 477.3,222.7 478.2,222.6 479.1,222.0 480.0,222.0 480.9,222.0 481.8,222.3 482.7,222.5 483.6,222.1 484.5,222.6 485.5,223.0 486.4,223.2 487.3,222.5 488.2,222.4 489.1,223.3 490.0,222.9 491.0,222.8 492.0,222.6 493.0,222.8 494.0,222.8 495.0,222.7 496.0,222.7 497.0,223.0 498.0,223.3 499.0,222.8 500.0,222.9 500.9,223.0 501.8,223.4 502.7,223.4 503.6,223.7 504.5,222.9 505.5,223.6 506.4,223.1 507.3,223.5 508.2,223.5 509.1,223.6 510.0,223.4 510.9,223.2 511.8,223.2 512.7,224.3 513.6,224.4 514.6,224.0 515.5,223.7 516.4,224.6 517.3,224.3 518.2,224.4 519.1,224.7 520.0,224.2 521.0,224.4 522.2,225.2 523.5,225.2 524.7,225.6 526.0,225.2 527.1,225.9 528.1,225.9 528.8,225.5 529.3,226.0 529.5,225.6" fill="none" stroke="#ff0000" stroke-width="1.7" stroke-linejoin="round"/>
<polyline points="91.6,155.0 91.8,154.3 92.2,154.4 92.8,153.4 93.6,151.9 94.3,151.4 95.0,150.9 95.7,151.1 96.5,151.5 97.3,151.1 98.0,151.5 98.6,152.9 99.2,153.0 99.8,154.0 100.4,153.9 101.0,154.9 101.7,155.9 102.3,156.1 103.0,157.4 103.6,157.4 104.0,156.1 104.3,155.4 104.6,155.0 104.9,154.3 105.2,152.6 105.6,151.4 106.0,150.9 106.7,149.9 107.5,149.6 108.3,149.5 109.0,149.0 109.6,147.8 110.1,146.6 110.6,145.7 111.0,145.6 111.3,145.6 111.6,146.0 111.9,147.8 112.2,148.6 112.5,149.9 112.7,150.6 113.0,152.5 113.2,153.3 113.4,153.4 113.6,154.7 113.7,156.2 113.9,157.2 114.1,158.4 114.3,158.6 114.6,159.8 115.0,160.2 115.7,160.3 116.5,161.0 117.3,161.5 118.0,161.4 118.6,160.6 119.1,160.1 119.6,158.6 120.0,157.7 120.2,157.8 120.3,156.7 120.5,155.8 120.6,155.5 120.7,154.9 120.8,154.0 120.9,152.8 120.9,152.0 121.0,151.1 121.0,150.5 121.1,149.2 121.1,148.0 121.2,147.0 121.2,145.4 121.3,144.3 121.3,143.8 121.4,143.0 121.4,141.3 121.5,139.9 121.5,138.9 121.6,138.5 121.6,138.2 121.7,137.1 121.7,136.0 121.7,135.4 121.8,133.7 121.8,133.0 121.9,132.5 121.9,131.0 121.9,129.7 122.0,128.4 122.0,127.5 122.0,126.8 122.1,124.5 122.1,124.1 122.1,122.9 122.2,121.7 122.2,120.3 122.3,119.0 122.3,117.4 122.3,116.1 122.4,114.7 122.4,112.9 122.4,112.5 122.5,110.8 122.5,109.1 122.5,108.1 122.6,106.7 122.6,105.3 122.6,104.0 122.7,102.9 122.7,101.7 122.7,100.4 122.8,99.0 122.8,97.3 122.8,96.3 122.9,95.0 122.9,94.3 122.9,93.5 123.0,92.3 123.0,91.2 123.0,90.2 123.0,88.6 123.1,88.3 123.1,87.2 123.1,85.6 123.2,84.7 123.2,83.9 123.2,84.0 123.3,82.7 123.3,81.9 123.3,81.8 123.4,81.0 123.4,80.2 123.4,79.9 123.4,79.9 123.5,79.2 123.5,79.1 123.5,79.4 123.6,79.0 123.6,78.8 123.6,79.0 123.7,78.7 123.7,79.3 123.7,79.7 123.8,79.8 123.8,80.2 123.9,81.7 123.9,81.9 123.9,82.2 124.0,83.4 124.0,84.5 124.0,84.5 124.1,85.5 124.1,86.6 124.1,88.3 124.2,88.8 124.2,90.5 124.2,91.6 124.3,92.6 124.3,93.5 124.3,95.6 124.4,96.6 124.4,97.6 124.4,98.6 124.5,100.4 124.5,101.4 124.5,102.9 124.6,103.9 124.6,105.5 124.6,106.2 124.6,107.7 124.7,109.7 124.7,110.9 124.7,111.5 124.8,113.2 124.8,113.8 124.8,115.6 124.9,116.5 124.9,117.1 124.9,117.9 125.0,118.6 125.0,120.4 125.0,120.6 125.1,122.5 125.1,123.7 125.2,124.3 125.2,124.9 125.2,126.7 125.3,127.8 125.3,128.5 125.3,129.3 125.4,130.2 125.4,131.1 125.5,131.9 125.5,133.4 125.5,134.0 125.6,134.7 125.6,135.5 125.6,137.1 125.7,137.6 125.7,138.7 125.8,139.4 125.8,140.9 125.9,141.8 125.9,141.7 126.0,142.8 126.0,143.8 126.1,145.6 126.1,146.5 126.1,147.2 126.2,148.3 126.2,150.1 126.3,151.5 126.3,152.8 126.3,153.4 126.4,155.1 126.4,156.0 126.5,156.7 126.6,158.2 126.7,158.1 126.8,159.3 126.9,159.1 127.0,159.5 127.2,160.5 127.6,159.4 128.1,159.2 128.5,158.0 129.0,157.4 129.4,155.8 129.9,154.7 130.3,153.7 130.7,153.9 131.1,154.0 131.4,155.2 131.8,156.2 132.1,156.6 132.5,158.1 132.9,158.5 133.2,159.4 133.6,160.4 134.0,162.0 134.4,162.2 134.9,161.9 135.5,160.4 136.1,159.5 136.7,158.7 137.2,157.9 137.6,158.4 138.0,158.6 138.3,159.4 138.7,160.6 139.1,162.2 139.5,162.6 140.1,163.6 140.7,163.6 141.3,163.9 142.0,165.0 142.7,165.7 143.4,165.6 144.2,167.2 145.0,167.3 145.7,167.8 146.5,168.8 147.1,167.6 147.8,167.3 148.4,167.3 149.1,165.8 149.7,164.6 150.3,164.0 151.0,163.7 151.8,164.3 152.6,164.0 153.3,165.3 154.2,165.2 155.0,166.1 155.8,166.1 156.6,165.4 157.5,165.3 158.3,165.4 159.2,164.8 160.0,165.2 160.9,164.2 161.8,163.8 162.7,164.5 163.6,163.2 164.3,162.9 165.0,161.9 165.4,161.2 165.7,160.2 165.9,160.4 166.1,159.6 166.3,158.7 166.4,156.8 166.5,156.0 166.6,155.4 166.6,154.7 166.7,153.2 166.8,152.3 166.9,151.2 167.0,149.7 167.1,149.2 167.2,148.1 167.3,147.1 167.3,146.0 167.4,145.3 167.5,145.1 167.5,143.5 167.6,142.7 167.7,141.7 167.7,141.1 167.8,139.5 167.8,138.4 167.9,137.4 168.0,136.4 168.0,136.0 168.1,135.0 168.2,133.4 168.2,132.5 168.3,131.8 168.4,131.0 168.5,130.1 168.6,128.6 168.8,127.2 168.9,126.1 169.0,124.7 169.2,123.9 169.4,122.1 169.5,120.9 169.7,120.3 169.8,118.9 170.0,118.5 170.1,117.5 170.3,117.3 170.5,116.1 170.6,116.4 170.7,116.8 170.9,116.4 171.0,117.9 171.2,117.8 171.3,119.4 171.4,120.6 171.6,121.6 171.7,122.2 171.8,123.3 172.0,125.0 172.1,126.8 172.2,127.4 172.4,129.3 172.5,129.6 172.6,131.3 172.7,131.2 172.8,132.4 172.9,134.0 172.9,134.8 173.0,135.9 173.1,136.8 173.2,137.7 173.2,138.7 173.3,139.2 173.4,140.5 173.5,141.3 173.5,143.0 173.6,144.0 173.7,144.6 173.8,145.4 173.9,147.4 174.0,148.3 174.1,149.0 174.2,150.0 174.3,151.3 174.4,151.8 174.5,152.6 174.6,153.4 174.7,154.2 174.9,154.7 175.0,156.2 175.2,157.0 175.4,158.3 175.6,158.8 175.9,160.2 176.1,161.0 176.3,161.9 176.6,162.9 176.9,164.4 177.2,164.6 177.6,165.3 178.0,166.1 178.7,166.4 179.5,166.7 180.3,167.6 181.2,167.9 182.0,168.2 182.8,167.9 183.6,168.0 184.4,167.8 185.2,167.0 186.0,167.0 186.8,166.7 187.6,166.0 188.4,165.9 189.2,165.8 190.0,166.0 190.8,166.2 191.6,165.7 192.4,166.5 193.2,166.2 194.0,166.5 194.8,167.2 195.6,167.7 196.3,166.9 197.2,167.7 198.0,168.0 198.8,167.6 199.6,168.4 200.5,168.9 201.3,168.7 202.2,169.5 203.1,169.9 204.0,170.1 204.9,170.7 205.7,171.2 206.6,171.6 207.5,171.6 208.4,171.5 209.3,171.8 210.2,172.0 211.0,172.5 211.9,172.6 212.7,171.7 213.5,172.1 214.4,171.8 215.2,171.1 216.0,171.0 216.8,170.4 217.6,170.8 218.5,169.8 219.3,170.7 220.1,170.4 221.0,170.1 221.8,169.8 222.7,170.7 223.5,170.9 224.4,170.3 225.2,171.3 226.1,171.7 227.0,171.8 227.9,172.2 228.8,172.4 229.7,173.4 230.6,174.0 231.6,173.8 232.4,174.6 233.2,174.4 234.0,174.0 234.8,173.8 235.4,172.9 236.1,172.9 236.6,172.0 237.3,170.3 238.0,170.1 238.8,169.5 239.6,168.8 240.4,168.7 241.3,168.4 242.1,168.7 243.0,167.5 243.8,167.2 244.6,166.9 245.4,165.8 246.3,165.8 247.1,165.2 248.0,164.9 248.8,163.9 249.6,163.8 250.5,164.1 251.5,164.1 252.4,164.9 253.3,165.0 254.2,165.9 255.0,166.3 256.1,166.5 257.0,166.8 258.0,166.0 258.6,165.5 259.2,165.0 259.7,163.9 260.3,162.5 260.8,161.2 261.4,160.2 261.9,159.4 262.4,159.9 262.8,159.5 263.3,160.9 263.6,161.7 264.0,163.5 264.4,164.5 264.8,166.0 265.2,166.2 265.6,167.3 266.0,167.7 266.5,167.2 267.1,167.0 267.7,166.0 268.3,165.3 268.9,163.6 269.5,163.0 270.0,161.9 270.3,160.9 270.7,160.0 271.0,159.3 271.3,158.0 271.5,156.5 271.8,155.4 272.0,153.9 272.3,152.5 272.5,151.2 272.8,150.7 273.1,150.3 273.3,150.2 273.6,150.0 273.9,149.8 274.2,150.9 274.5,151.1 274.9,152.5 275.2,153.2 275.5,154.8 275.8,156.4 276.2,156.8 276.6,157.8 277.0,159.1 277.5,160.0 278.1,160.8 278.7,161.3 279.3,162.6 279.9,163.4 280.5,163.8 281.0,164.4 281.4,163.9 281.8,163.6 282.2,163.0 282.5,162.0 282.8,160.7 283.1,159.9 283.4,158.6 283.7,157.4 284.0,156.1 284.2,155.2 284.3,154.7 284.5,153.9 284.6,153.5 284.7,152.4 284.9,151.6 285.0,150.6 285.1,149.8 285.2,148.6 285.3,147.3 285.4,146.2 285.5,145.7 285.6,144.9 285.7,143.5 285.8,142.0 285.9,141.7 286.0,140.3 286.1,139.2 286.2,137.7 286.3,137.1 286.4,136.4 286.5,135.0 286.6,133.8 286.7,133.2 286.8,131.4 286.9,131.0 287.0,130.5 287.1,129.2 287.2,127.8 287.3,127.0 287.5,125.7 287.6,124.1 287.7,122.8 287.8,122.3 287.9,120.3 288.0,118.8 288.1,118.4 288.2,116.7 288.4,115.3 288.5,114.2 288.6,113.2 288.7,111.4 288.8,110.8 289.0,109.8 289.1,108.9 289.2,107.4 289.3,106.9 289.5,105.7 289.6,105.4 289.8,104.4 289.9,104.6 290.1,104.3 290.2,103.5 290.4,103.3 290.7,104.3 291.1,104.5 291.5,105.5 291.9,105.7 292.3,107.9 292.7,108.9 293.0,109.8 293.2,110.6 293.3,111.7 293.5,112.5 293.6,112.6 293.8,113.9 293.9,114.3 294.0,116.1 294.1,116.5 294.3,117.9 294.4,118.7 294.5,119.6 294.6,120.2 294.7,121.6 294.8,122.2 294.9,123.2 295.0,124.9 295.1,125.6 295.2,127.1 295.3,127.6 295.4,129.2 295.5,130.2 295.7,130.8 295.8,131.6 295.9,132.9 296.0,134.0 296.1,134.5 296.2,135.6 296.3,136.5 296.5,138.1 296.6,139.4 296.7,139.7 296.8,140.6 296.9,142.4 297.0,143.5 297.1,144.7 297.2,145.4 297.3,146.1 297.4,147.7 297.5,147.9 297.6,149.6 297.7,149.9 297.8,151.2 298.0,152.2 298.1,153.0 298.2,153.7 298.4,154.6 298.5,156.1 298.7,156.5 298.8,157.4 299.0,157.7 299.3,159.4 299.5,160.1 299.8,161.4 300.1,162.8 300.4,163.8 300.7,163.6 301.1,165.2 301.5,165.9 302.0,165.8 302.7,166.4 303.5,166.9 304.3,167.5 305.2,167.0 306.0,167.4 306.8,167.0 307.7,165.9 308.5,166.1 309.3,164.3 310.0,163.6 310.4,163.5 310.8,162.1 311.2,161.5 311.6,160.3 311.9,159.7 312.2,159.1 312.6,158.1 312.9,156.2 313.2,155.2 313.6,155.2 314.0,153.5 314.5,152.9 315.0,151.9 315.5,151.2 316.0,150.4 316.5,150.3 317.0,149.7 317.5,149.0 318.0,148.4 318.5,147.4 318.9,146.3 319.4,145.8 319.8,145.4 320.2,144.1 320.6,142.8 321.0,141.5 321.2,141.8 321.4,140.7 321.6,139.6 321.8,139.1 322.0,138.2 322.2,137.3 322.3,135.9 322.5,135.3 322.6,134.4 322.8,133.2 322.9,132.9 323.1,131.4 323.2,130.6 323.3,129.6 323.5,128.6 323.6,127.5 323.7,126.5 323.9,124.8 324.0,124.5 324.1,122.8 324.2,122.8 324.3,121.8 324.4,120.9 324.4,119.1 324.5,118.2 324.6,118.0 324.7,116.7 324.8,115.6 324.8,115.2 324.9,113.2 325.0,112.7 325.0,111.6 325.1,110.2 325.2,109.4 325.2,108.7 325.3,107.8 325.4,105.8 325.4,105.3 325.5,103.8 325.5,103.5 325.6,101.7 325.7,100.6 325.7,100.0 325.8,99.4 325.8,97.9 325.9,96.7 326.0,96.5 326.0,95.6 326.1,94.7 326.1,93.2 326.2,92.4 326.3,91.4 326.3,90.9 326.4,89.8 326.5,88.7 326.6,88.0 326.7,86.9 326.8,85.2 326.9,83.4 327.0,82.8 327.1,81.3 327.2,80.7 327.2,79.3 327.3,78.4 327.4,77.3 327.5,76.2 327.6,75.9 327.7,75.2 327.8,74.2 327.9,73.7 328.0,73.9 328.1,74.1 328.2,73.9 328.3,74.7 328.4,75.5 328.5,75.7 328.6,77.4 328.7,78.2 328.8,78.8 328.8,79.9 328.9,81.2 329.0,82.4 329.1,84.1 329.2,85.1 329.3,86.4 329.4,87.2 329.5,89.3 329.6,89.8 329.7,90.6 329.7,91.1 329.8,93.0 329.8,93.3 329.9,94.7 330.0,95.6 330.0,96.6 330.1,97.4 330.1,98.5 330.2,99.5 330.3,100.3 330.3,100.6 330.4,102.1 330.4,103.2 330.5,104.7 330.5,105.5 330.6,106.5 330.6,107.6 330.7,108.2 330.8,109.9 330.8,110.6 330.9,111.4 330.9,112.5 331.0,114.2 331.1,114.7 331.1,115.3 331.2,116.3 331.3,117.9 331.3,118.8 331.4,120.1 331.5,120.3 331.6,121.5 331.7,122.8 331.7,122.9 331.8,123.9 331.9,125.2 332.0,125.7 332.1,126.7 332.3,128.1 332.4,129.7 332.5,130.8 332.7,131.6 332.8,132.9 333.0,135.0 333.1,136.0 333.3,136.7 333.4,138.6 333.6,138.8 333.7,140.3 333.9,141.8 334.0,142.5 334.2,142.8 334.4,144.1 334.5,144.4 334.7,145.1 334.8,145.3 335.0,144.9 335.2,145.0 335.5,144.4 335.8,144.1 336.0,143.0 336.3,141.9 336.5,140.8 336.8,139.8 337.0,137.7 337.1,137.0 337.2,136.9 337.3,136.2 337.4,135.2 337.5,134.3 337.6,133.4 337.7,133.1 337.7,132.1 337.8,131.0 337.9,129.4 338.0,129.4 338.0,128.0 338.1,126.7 338.1,125.8 338.2,125.2 338.3,123.4 338.3,122.5 338.4,121.6 338.4,121.2 338.5,120.0 338.5,119.1 338.6,117.6 338.6,116.5 338.7,115.4 338.8,114.3 338.8,113.2 338.9,112.5 338.9,111.6 339.0,109.9 339.1,109.3 339.1,108.0 339.2,107.1 339.2,106.4 339.3,105.6 339.3,104.6 339.4,104.1 339.4,102.3 339.5,101.9 339.5,101.3 339.6,100.1 339.6,98.9 339.7,97.7 339.7,96.8 339.8,96.4 339.8,95.4 339.9,94.1 339.9,93.4 340.0,92.4 340.0,91.4 340.1,89.9 340.1,89.0 340.1,88.3 340.2,86.9 340.2,86.3 340.3,85.0 340.3,83.8 340.4,82.9 340.4,81.6 340.5,80.8 340.5,79.9 340.6,78.4 340.6,77.6 340.7,76.7 340.7,76.3 340.8,75.1 340.8,73.7 340.9,73.5 340.9,71.7 341.0,71.0 341.0,70.3 341.0,69.2 341.1,67.9 341.1,67.2 341.2,65.7 341.2,64.8 341.3,63.4 341.3,62.7 341.4,61.2 341.4,59.2 341.5,58.0 341.5,57.6 341.6,55.5 341.6,54.0 341.7,52.9 341.7,51.8 341.8,51.1 341.8,49.1 341.9,48.2 341.9,47.0 342.0,45.0 342.0,44.3 342.1,43.5 342.1,41.8 342.2,40.6 342.2,39.3 342.3,38.8 342.3,37.8 342.4,35.9 342.4,35.4 342.5,34.3 342.5,33.7 342.6,32.3 342.6,31.7 342.7,31.1 342.7,30.7 342.7,30.5 342.8,30.1 342.8,29.6 342.9,29.2 342.9,28.3 343.0,28.5 343.0,28.8 343.0,28.4 343.1,28.8 343.1,29.4 343.2,28.9 343.2,30.1 343.2,29.7 343.3,30.5 343.3,31.7 343.4,31.6 343.4,32.7 343.4,33.3 343.5,34.7 343.5,35.7 343.5,35.9 343.6,37.1 343.6,38.6 343.6,39.3 343.7,40.0 343.7,41.8 343.8,42.5 343.8,43.9 343.8,44.6 343.9,46.9 343.9,47.8 343.9,49.4 344.0,50.7 344.0,51.3 344.0,52.9 344.1,54.1 344.1,55.8 344.1,57.2 344.2,57.8 344.2,59.1 344.2,60.9 344.3,61.8 344.3,62.7 344.3,64.0 344.4,65.6 344.4,66.8 344.4,68.4 344.5,69.0 344.5,70.1 344.5,70.6 344.6,71.8 344.6,72.6 344.6,74.0 344.6,74.5 344.7,75.5 344.7,76.6 344.7,77.7 344.7,78.6 344.8,79.9 344.8,80.4 344.8,82.2 344.8,83.0 344.8,83.9 344.9,84.4 344.9,85.7 344.9,87.1 344.9,88.1 344.9,89.3 345.0,90.5 345.0,90.9 345.0,92.1 345.0,93.0 345.0,93.8 345.1,94.8 345.1,96.0 345.1,96.8 345.1,98.3 345.1,99.5 345.2,100.4 345.2,101.6 345.2,102.1 345.2,103.0 345.3,104.4 345.3,105.8 345.3,106.3 345.4,106.8 345.4,107.8 345.4,109.0 345.5,110.3 345.5,110.7 345.6,111.8 345.6,113.2 345.6,114.5 345.7,114.7 345.7,115.8 345.8,116.6 345.8,117.0 345.9,118.1 345.9,118.8 346.0,119.7 346.1,121.4 346.2,122.4 346.2,122.8 346.3,123.9 346.4,125.7 346.5,126.1 346.6,127.3 346.7,128.3 346.8,129.1 346.9,130.1 347.0,131.2 347.1,132.4 347.2,134.0 347.3,134.6 347.4,135.1 347.5,136.6 347.6,137.0 347.8,138.2 347.9,138.9 348.0,140.5 348.1,140.7 348.3,142.1 348.4,142.8 348.5,143.9 348.7,144.4 348.8,145.6 349.0,145.9 349.2,147.3 349.4,148.3 349.6,149.2 349.8,150.3 350.0,151.3 350.2,152.2 350.5,153.7 350.7,154.4 350.9,155.3 351.2,155.6 351.4,157.0 351.7,157.5 352.0,158.4 352.3,159.4 352.6,160.3 353.0,160.7 353.5,161.7 354.1,162.9 354.7,163.6 355.4,164.3 356.0,164.7 356.7,165.6 357.4,166.6 358.0,167.0 358.8,167.8 359.6,168.8 360.4,169.2 361.2,169.7 362.0,169.5 362.8,170.2 363.6,171.0 364.3,170.8 365.2,171.9 366.0,171.2 366.8,172.1 367.7,171.4 368.5,172.1 369.4,171.9 370.2,171.2 371.0,171.4 371.7,170.2 372.3,170.3 372.9,169.1 373.5,168.4 374.0,167.3 374.5,167.0 375.0,165.7 375.4,165.4 375.8,164.8 376.2,163.8 376.5,162.4 376.8,162.5 377.1,161.6 377.4,160.3 377.7,159.0 378.0,158.1 378.2,157.7 378.3,156.6 378.4,156.2 378.6,155.2 378.7,154.2 378.8,153.9 379.0,152.5 379.1,151.8 379.2,150.3 379.3,149.8 379.4,148.4 379.5,148.1 379.6,146.4 379.7,145.4 379.8,144.5 379.9,143.5 380.0,142.8 380.1,141.6 380.2,140.5 380.3,140.2 380.3,139.0 380.4,137.7 380.5,136.7 380.6,135.7 380.7,134.0 380.8,133.5 380.8,131.8 380.9,131.1 381.0,129.8 381.1,128.7 381.1,128.5 381.2,127.8 381.3,126.2 381.3,125.9 381.4,124.4 381.4,123.8 381.5,123.3 381.5,122.1 381.6,120.4 381.7,119.8 381.7,118.8 381.8,117.8 381.8,117.4 381.8,116.0 381.9,115.3 381.9,114.3 382.0,113.2 382.0,111.7 382.1,111.4 382.1,110.7 382.2,108.9 382.2,108.4 382.2,107.2 382.3,106.1 382.3,105.5 382.4,104.8 382.4,102.7 382.4,102.7 382.5,101.1 382.5,100.6 382.6,98.9 382.6,98.4 382.7,96.7 382.7,96.0 382.8,95.7 382.8,94.3 382.8,93.4 382.9,92.0 382.9,91.0 383.0,90.0 383.0,89.4 383.1,88.3 383.1,86.7 383.2,85.9 383.2,84.9 383.3,83.8 383.3,83.1 383.4,81.8 383.4,79.8 383.5,78.9 383.5,77.3 383.6,76.0 383.6,74.8 383.7,73.6 383.7,72.9 383.8,71.5 383.8,70.4 383.9,68.5 383.9,67.0 384.0,66.6 384.0,65.2 384.1,64.0 384.1,61.7 384.2,60.9 384.2,59.9 384.3,58.7 384.3,57.7 384.4,56.1 384.4,54.8 384.5,53.2 384.5,53.0 384.6,52.1 384.7,50.9 384.7,49.6 384.8,48.3 384.8,47.3 384.9,47.0 384.9,46.3 385.0,45.5 385.0,43.9 385.1,43.6 385.1,42.9 385.2,42.2 385.2,42.1 385.3,41.8 385.3,41.2 385.4,40.8 385.4,40.6 385.5,40.3 385.5,40.1 385.6,39.7 385.7,40.3 385.7,39.7 385.8,40.5 385.8,40.5 385.9,41.0 385.9,41.5 386.0,41.8 386.0,42.9 386.1,42.7 386.1,43.1 386.2,44.9 386.3,44.9 386.3,45.7 386.4,46.8 386.4,47.9 386.5,49.3 386.5,50.0 386.6,50.6 386.7,51.9 386.7,52.9 386.8,54.1 386.8,55.2 386.9,56.1 387.0,57.6 387.0,58.8 387.1,59.8 387.1,61.8 387.2,62.6 387.2,63.6 387.3,65.4 387.4,67.0 387.4,68.3 387.5,69.4 387.5,70.8 387.6,71.7 387.6,72.8 387.7,74.2 387.7,75.6 387.8,76.7 387.8,78.2 387.9,79.1 388.0,80.2 388.0,81.6 388.1,82.6 388.1,84.4 388.2,85.2 388.2,85.9 388.3,87.1 388.3,88.6 388.4,89.2 388.4,90.1 388.5,91.0 388.5,91.8 388.6,93.4 388.6,93.8 388.7,95.6 388.7,95.9 388.8,97.6 388.8,98.3 388.9,99.6 389.0,100.5 389.0,101.0 389.1,102.4 389.1,102.9 389.2,104.0 389.2,105.1 389.3,106.0 389.3,107.3 389.4,108.6 389.4,108.9 389.5,110.3 389.5,110.6 389.5,112.0 389.6,112.6 389.6,113.7 389.7,114.1 389.7,115.8 389.8,116.1 389.8,117.3 389.9,118.0 389.9,119.4 390.0,120.1 390.1,121.2 390.1,122.4 390.2,122.9 390.2,123.8 390.3,125.7 390.3,126.2 390.4,127.8 390.4,129.0 390.5,129.7 390.5,130.1 390.6,132.0 390.6,132.8 390.7,133.3 390.7,134.3 390.8,135.6 390.8,136.1 390.9,138.0 391.0,138.7 391.0,139.7 391.1,140.1 391.2,141.6 391.3,141.6 391.4,143.0 391.5,143.6 391.7,144.4 391.8,145.5 391.9,146.6 392.1,148.2 392.2,148.7 392.4,149.7 392.6,150.8 392.8,151.3 393.0,152.5 393.2,153.4 393.5,154.5 393.9,155.0 394.3,156.4 394.7,157.4 395.1,158.1 395.6,158.6 396.1,159.2 396.5,159.8 397.0,161.4 397.6,161.4 398.1,162.5 398.7,163.1 399.3,163.2 399.8,164.1 400.3,165.7 400.8,166.4 401.3,167.7 401.9,168.0 402.6,166.8 403.3,166.5 404.1,164.8 404.7,164.9 405.1,165.3 405.5,166.6 405.8,167.1 406.1,167.8 406.4,169.1 406.8,170.0 407.3,170.7 407.8,171.9 408.3,173.3 408.8,173.7 409.2,173.2 409.5,171.7 409.9,171.7 410.2,170.1 410.6,169.4 411.0,167.6 411.4,166.7 411.8,166.6 412.2,164.9 412.6,163.6 413.0,163.3 413.3,163.3 413.7,163.0 414.1,162.8 414.5,164.1 414.8,164.9 415.1,166.1 415.5,167.0 415.8,167.9 416.0,169.3 416.3,169.8 416.5,171.3 416.7,171.9 416.9,173.3 417.1,173.9 417.3,174.9 417.5,176.0 417.8,176.7 418.0,177.3 418.3,178.8 418.6,180.1 418.9,180.5 419.2,182.0 419.6,182.6 420.0,182.9 420.6,182.5 421.4,182.9 422.2,182.2 422.8,181.3 423.2,180.1 423.5,179.9 423.8,178.3 424.1,178.3 424.3,176.6 424.5,175.5 424.7,174.6 424.9,173.7 425.1,172.6 425.3,171.4 425.4,170.3 425.6,169.3 425.8,167.6 425.9,166.5 426.1,165.7 426.2,163.9 426.4,163.3 426.5,163.0 426.7,162.7 426.9,163.6 427.1,163.4 427.3,164.3 427.6,165.6 427.8,167.0 428.0,168.7 428.2,170.1 428.4,171.1 428.5,171.7 428.7,172.0 428.8,172.9 428.9,174.5 429.0,175.7 429.0,176.1 429.1,177.9 429.2,178.4 429.4,179.4 429.5,180.3 429.6,180.6 429.8,181.5 430.0,183.4 430.3,183.6 430.6,184.4 430.9,185.5 431.2,186.8 431.5,187.1 431.9,187.9 432.4,188.9 432.9,190.0 433.4,191.0 434.0,191.3 434.7,192.7 435.3,193.5 436.0,193.9 436.6,193.7 437.4,194.5 438.1,195.6 438.9,196.0 439.7,195.6 440.6,196.2 441.5,196.3 442.5,196.9 443.4,196.3 444.4,196.8 445.3,197.4 446.2,197.7 447.1,196.9 448.1,197.6 449.1,197.8 450.1,198.1 451.0,197.8 452.0,198.5 452.9,197.8 453.8,197.9 454.7,198.1 455.5,198.8 456.4,198.5 457.3,198.8 458.2,198.9 459.1,198.9 460.0,200.1 460.9,199.6 461.8,200.4 462.7,200.3 463.6,199.9 464.4,200.8 465.3,200.0 466.2,201.2 467.1,200.3 468.0,200.7 468.9,201.3 469.8,200.9 470.7,201.9 471.6,201.4 472.4,202.5 473.3,201.8 474.2,202.6 475.1,202.5 476.0,202.8 476.9,203.2 477.8,203.2 478.7,203.4 479.6,203.9 480.5,203.6 481.4,203.7 482.3,204.4 483.2,204.1 484.0,204.9 484.9,204.4 485.8,204.5 486.6,204.0 487.5,204.0 488.3,204.1 489.2,204.7 490.0,204.8 490.8,205.1 491.7,204.6 492.5,205.0 493.4,204.7 494.2,204.4 495.1,204.9 496.0,205.2 496.9,205.4 497.9,205.5 498.9,205.4 499.9,205.0 501.0,205.0 502.0,204.9 503.0,204.9 504.0,205.2 504.9,205.2 505.8,205.5 506.7,205.2 507.6,205.3 508.4,205.9 509.3,205.8 510.2,205.8 511.1,206.0 512.0,206.3 512.9,206.2 513.8,206.0 514.6,206.1 515.5,206.5 516.4,206.0 517.3,206.6 518.2,207.2 519.1,206.6 520.0,206.9 521.0,207.4 522.2,207.8 523.4,207.7 524.7,207.8 525.9,207.7 527.0,208.0 528.0,208.3 528.8,208.1 529.3,208.7 529.5,208.4" fill="none" stroke="#000000" stroke-width="1.65" stroke-linejoin="round"/>
<rect x="442" y="11.8" width="88.3" height="146.2" fill="#ffffff" stroke="#808080" stroke-width="1.4"/>
<line x1="91.7" y1="11.8" x2="91.7" y2="367.8" stroke="#000" stroke-width="1.4"/>
<line x1="530.6" y1="11.8" x2="530.6" y2="367.8" stroke="#000" stroke-width="1.5"/>
<line x1="91.0" y1="11.8" x2="531.35" y2="11.8" stroke="#000" stroke-width="1.8"/>
<line x1="91.0" y1="367.8" x2="531.35" y2="367.8" stroke="#000" stroke-width="1.7"/>
<line x1="84.3" y1="346.8" x2="91.7" y2="346.8" stroke="#000" stroke-width="1.6"/>
<line x1="87.7" y1="304.9" x2="91.7" y2="304.9" stroke="#000" stroke-width="1.6"/>
<line x1="84.3" y1="263.1" x2="91.7" y2="263.1" stroke="#000" stroke-width="1.6"/>
<line x1="87.7" y1="221.2" x2="91.7" y2="221.2" stroke="#000" stroke-width="1.6"/>
<line x1="84.3" y1="179.4" x2="91.7" y2="179.4" stroke="#000" stroke-width="1.6"/>
<line x1="87.7" y1="137.5" x2="91.7" y2="137.5" stroke="#000" stroke-width="1.6"/>
<line x1="84.3" y1="95.7" x2="91.7" y2="95.7" stroke="#000" stroke-width="1.6"/>
<line x1="87.7" y1="53.8" x2="91.7" y2="53.8" stroke="#000" stroke-width="1.6"/>
<line x1="84.3" y1="12.0" x2="91.7" y2="12.0" stroke="#000" stroke-width="1.6"/>
<line x1="91.7" y1="367.8" x2="91.7" y2="371.8" stroke="#000" stroke-width="1.5"/>
<line x1="238.0" y1="367.8" x2="238.0" y2="374.8" stroke="#000" stroke-width="1.5"/>
<line x1="384.0" y1="367.8" x2="384.0" y2="371.8" stroke="#000" stroke-width="1.5"/>
<line x1="530.6" y1="367.8" x2="530.6" y2="374.8" stroke="#000" stroke-width="1.5"/>
<text x="72.78" y="350.60" textLength="7.45" lengthAdjust="spacingAndGlyphs" class="tk">0</text>
<text x="42.92" y="266.90" textLength="37.40" lengthAdjust="spacingAndGlyphs" class="tk">20000</text>
<text x="43.29" y="183.20" textLength="37.03" lengthAdjust="spacingAndGlyphs" class="tk">40000</text>
<text x="42.92" y="99.50" textLength="37.41" lengthAdjust="spacingAndGlyphs" class="tk">60000</text>
<text x="43.02" y="15.80" textLength="37.31" lengthAdjust="spacingAndGlyphs" class="tk">80000</text>
<text x="223.19" y="389.60" textLength="29.53" lengthAdjust="spacingAndGlyphs" class="tk">1000</text>
<text x="514.82" y="389.60" textLength="30.21" lengthAdjust="spacingAndGlyphs" class="tk">2000</text>
<text x="244" y="418.8" class="ti">Raman shift (cm<tspan class="sup" dy="-9.2">-1</tspan><tspan dy="9.2">)</tspan></text>
<text x="-259.64" y="0.00" textLength="116.97" lengthAdjust="spacingAndGlyphs" class="ti" transform="translate(17.6,0) rotate(-90)">Raman intensity</text>
<text x="456" y="39.6" class="lg">(a)10<tspan class="lsup" dy="-9">-7</tspan><tspan dy="9">M</tspan></text>
<text x="456" y="63.3" class="lg">(b)10<tspan class="lsup" dy="-9">-8</tspan><tspan dy="9">M</tspan></text>
<text x="456" y="86.3" class="lg">(c)10<tspan class="lsup" dy="-9">-9</tspan><tspan dy="9">M</tspan></text>
<text x="456" y="110.5" class="lg">(d)10<tspan class="lsup" dy="-9">-10</tspan><tspan dy="9">M</tspan></text>
<text x="456" y="133.1" class="lg">(e)10<tspan class="lsup" dy="-9">-11</tspan><tspan dy="9">M</tspan></text>
<text x="456" y="153.5" class="lg">(f)Blank</text>
</svg>
</body></html>
